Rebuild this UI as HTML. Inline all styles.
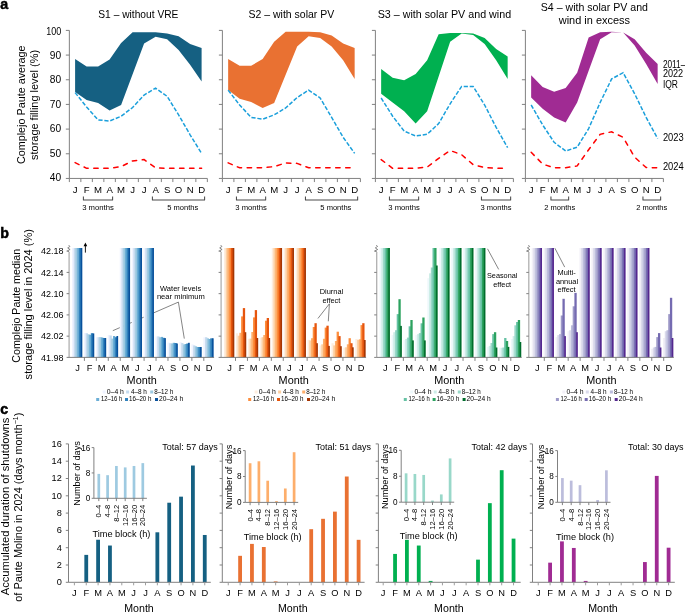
<!DOCTYPE html><html><head><meta charset="utf-8"><style>html,body{margin:0;padding:0;background:#fff}svg{display:block;will-change:transform}text{font-family:"Liberation Sans",sans-serif}</style></head><body>
<svg width="685" height="612" viewBox="0 0 685 612">
<rect width="685" height="612" fill="#fff"/>
<text x="0.3" y="8.6" font-size="14.2" font-weight="bold" fill="#000" stroke="#000" stroke-width="0.5">a</text>
<polygon points="75.1,59.05 86.6,66.5 98.1,66.5 109.6,59.5 121.1,42.9 132.6,32.2 144.1,32.2 155.6,32.2 167.1,33.5 178.6,36.2 190.1,44.1 201.6,47.9 201.6,81.4 190.1,64.8 178.6,49.9 167.1,39.2 155.6,36.7 144.1,43.4 132.6,74.2 121.1,105 109.6,110.5 98.1,103 86.6,100 75.1,92.1" fill="#156082"/>
<polyline points="75.1,92.6 86.6,107 98.1,119.9 109.6,121.1 121.1,116.2 132.6,107.5 144.1,95 155.6,88.1 167.1,96.3 178.6,114.9 190.1,134.8 201.6,153.4" fill="none" stroke="#1a9fdb" stroke-width="1.5" stroke-dasharray="4.2 1.8"/>
<polyline points="75.1,162.6 86.6,168.3 98.1,168.3 109.6,168.3 121.1,166.6 132.6,160.9 144.1,159.6 155.6,167.8 167.1,168.3 178.6,168.3 190.1,168.3 201.6,168.3" fill="none" stroke="#ff0000" stroke-width="1.5" stroke-dasharray="4.4 5.6" stroke-linecap="round"/>
<line x1="69.35" y1="30.4" x2="69.35" y2="178.45" stroke="#7a7a7a" stroke-width="0.95"/>
<line x1="69.35" y1="178.45" x2="207.35" y2="178.45" stroke="#7a7a7a" stroke-width="0.95"/>
<line x1="65.85" y1="178.45" x2="69.35" y2="178.45" stroke="#7a7a7a" stroke-width="0.95"/>
<text x="61.2" y="180.95" font-size="10.2" text-anchor="end">40</text>
<line x1="65.85" y1="153.77" x2="69.35" y2="153.77" stroke="#7a7a7a" stroke-width="0.95"/>
<text x="61.2" y="156.57" font-size="10.2" text-anchor="end">50</text>
<line x1="65.85" y1="129.1" x2="69.35" y2="129.1" stroke="#7a7a7a" stroke-width="0.95"/>
<text x="61.2" y="132.2" font-size="10.2" text-anchor="end">60</text>
<line x1="65.85" y1="104.42" x2="69.35" y2="104.42" stroke="#7a7a7a" stroke-width="0.95"/>
<text x="61.2" y="107.82" font-size="10.2" text-anchor="end">70</text>
<line x1="65.85" y1="79.75" x2="69.35" y2="79.75" stroke="#7a7a7a" stroke-width="0.95"/>
<text x="61.2" y="83.45" font-size="10.2" text-anchor="end">80</text>
<line x1="65.85" y1="55.08" x2="69.35" y2="55.08" stroke="#7a7a7a" stroke-width="0.95"/>
<text x="61.2" y="59.07" font-size="10.2" text-anchor="end">90</text>
<line x1="65.85" y1="30.4" x2="69.35" y2="30.4" stroke="#7a7a7a" stroke-width="0.95"/>
<text x="61.2" y="34.7" font-size="10.2" text-anchor="end" textLength="15" lengthAdjust="spacingAndGlyphs">100</text>
<line x1="69.35" y1="178.45" x2="69.35" y2="182.05" stroke="#7a7a7a" stroke-width="0.95"/>
<line x1="80.85" y1="178.45" x2="80.85" y2="182.05" stroke="#7a7a7a" stroke-width="0.95"/>
<line x1="92.35" y1="178.45" x2="92.35" y2="182.05" stroke="#7a7a7a" stroke-width="0.95"/>
<line x1="103.85" y1="178.45" x2="103.85" y2="182.05" stroke="#7a7a7a" stroke-width="0.95"/>
<line x1="115.35" y1="178.45" x2="115.35" y2="182.05" stroke="#7a7a7a" stroke-width="0.95"/>
<line x1="126.85" y1="178.45" x2="126.85" y2="182.05" stroke="#7a7a7a" stroke-width="0.95"/>
<line x1="138.35" y1="178.45" x2="138.35" y2="182.05" stroke="#7a7a7a" stroke-width="0.95"/>
<line x1="149.85" y1="178.45" x2="149.85" y2="182.05" stroke="#7a7a7a" stroke-width="0.95"/>
<line x1="161.35" y1="178.45" x2="161.35" y2="182.05" stroke="#7a7a7a" stroke-width="0.95"/>
<line x1="172.85" y1="178.45" x2="172.85" y2="182.05" stroke="#7a7a7a" stroke-width="0.95"/>
<line x1="184.35" y1="178.45" x2="184.35" y2="182.05" stroke="#7a7a7a" stroke-width="0.95"/>
<line x1="195.85" y1="178.45" x2="195.85" y2="182.05" stroke="#7a7a7a" stroke-width="0.95"/>
<line x1="207.35" y1="178.45" x2="207.35" y2="182.05" stroke="#7a7a7a" stroke-width="0.95"/>
<text x="75.1" y="192.7" font-size="9.6" text-anchor="middle">J</text>
<text x="86.6" y="192.7" font-size="9.6" text-anchor="middle">F</text>
<text x="98.1" y="192.7" font-size="9.6" text-anchor="middle">M</text>
<text x="109.6" y="192.7" font-size="9.6" text-anchor="middle">A</text>
<text x="121.1" y="192.7" font-size="9.6" text-anchor="middle">M</text>
<text x="132.6" y="192.7" font-size="9.6" text-anchor="middle">J</text>
<text x="144.1" y="192.7" font-size="9.6" text-anchor="middle">J</text>
<text x="155.6" y="192.7" font-size="9.6" text-anchor="middle">A</text>
<text x="167.1" y="192.7" font-size="9.6" text-anchor="middle">S</text>
<text x="178.6" y="192.7" font-size="9.6" text-anchor="middle">O</text>
<text x="190.1" y="192.7" font-size="9.6" text-anchor="middle">N</text>
<text x="201.6" y="192.7" font-size="9.6" text-anchor="middle">D</text>
<polyline points="83.4,196.6 83.4,200 112.6,200 112.6,196.6" fill="none" stroke="#4a4a4a" stroke-width="1.05" stroke-linejoin="round"/>
<text x="98" y="209.8" font-size="7.7" text-anchor="middle" textLength="31.7" lengthAdjust="spacingAndGlyphs">3 months</text>
<polyline points="152.4,196.6 152.4,200 204.6,200 204.6,196.6" fill="none" stroke="#4a4a4a" stroke-width="1.05" stroke-linejoin="round"/>
<text x="182.8" y="209.8" font-size="7.7" text-anchor="middle" textLength="31" lengthAdjust="spacingAndGlyphs">5 months</text>
<text x="138.35" y="18" font-size="10.6" text-anchor="middle" textLength="80.1" lengthAdjust="spacingAndGlyphs">S1 – without VRE</text>
<polygon points="228.15,59 239.65,65.8 251.15,65.8 262.65,59 274.15,41.7 285.65,31.7 297.15,31.7 308.65,31.7 320.15,32.2 331.65,35.5 343.15,43.4 354.65,47.9 354.65,78.9 343.15,60.3 331.65,46.6 320.15,37.9 308.65,36.2 297.15,46.6 285.65,74.8 274.15,103 262.65,108 251.15,102 239.65,98.8 228.15,90.1" fill="#e97132"/>
<polyline points="228.15,90.1 239.65,105 251.15,117.4 262.65,119.2 274.15,114.9 285.65,108 297.15,97.5 308.65,90.1 320.15,98 331.65,117.4 343.15,137.3 354.65,153.4" fill="none" stroke="#1a9fdb" stroke-width="1.5" stroke-dasharray="4.2 1.8"/>
<polyline points="228.15,162.9 239.65,167.8 251.15,167.8 262.65,167.8 274.15,166.6 285.65,162.9 297.15,163.4 308.65,167.8 320.15,167.8 331.65,167.8 343.15,167.8 354.65,167.8" fill="none" stroke="#ff0000" stroke-width="1.5" stroke-dasharray="4.4 5.6" stroke-linecap="round"/>
<line x1="222.4" y1="30.4" x2="222.4" y2="178.45" stroke="#7a7a7a" stroke-width="0.95"/>
<line x1="222.4" y1="178.45" x2="360.4" y2="178.45" stroke="#7a7a7a" stroke-width="0.95"/>
<line x1="218.9" y1="178.45" x2="222.4" y2="178.45" stroke="#7a7a7a" stroke-width="0.95"/>
<line x1="218.9" y1="153.77" x2="222.4" y2="153.77" stroke="#7a7a7a" stroke-width="0.95"/>
<line x1="218.9" y1="129.1" x2="222.4" y2="129.1" stroke="#7a7a7a" stroke-width="0.95"/>
<line x1="218.9" y1="104.42" x2="222.4" y2="104.42" stroke="#7a7a7a" stroke-width="0.95"/>
<line x1="218.9" y1="79.75" x2="222.4" y2="79.75" stroke="#7a7a7a" stroke-width="0.95"/>
<line x1="218.9" y1="55.08" x2="222.4" y2="55.08" stroke="#7a7a7a" stroke-width="0.95"/>
<line x1="218.9" y1="30.4" x2="222.4" y2="30.4" stroke="#7a7a7a" stroke-width="0.95"/>
<line x1="222.4" y1="178.45" x2="222.4" y2="182.05" stroke="#7a7a7a" stroke-width="0.95"/>
<line x1="233.9" y1="178.45" x2="233.9" y2="182.05" stroke="#7a7a7a" stroke-width="0.95"/>
<line x1="245.4" y1="178.45" x2="245.4" y2="182.05" stroke="#7a7a7a" stroke-width="0.95"/>
<line x1="256.9" y1="178.45" x2="256.9" y2="182.05" stroke="#7a7a7a" stroke-width="0.95"/>
<line x1="268.4" y1="178.45" x2="268.4" y2="182.05" stroke="#7a7a7a" stroke-width="0.95"/>
<line x1="279.9" y1="178.45" x2="279.9" y2="182.05" stroke="#7a7a7a" stroke-width="0.95"/>
<line x1="291.4" y1="178.45" x2="291.4" y2="182.05" stroke="#7a7a7a" stroke-width="0.95"/>
<line x1="302.9" y1="178.45" x2="302.9" y2="182.05" stroke="#7a7a7a" stroke-width="0.95"/>
<line x1="314.4" y1="178.45" x2="314.4" y2="182.05" stroke="#7a7a7a" stroke-width="0.95"/>
<line x1="325.9" y1="178.45" x2="325.9" y2="182.05" stroke="#7a7a7a" stroke-width="0.95"/>
<line x1="337.4" y1="178.45" x2="337.4" y2="182.05" stroke="#7a7a7a" stroke-width="0.95"/>
<line x1="348.9" y1="178.45" x2="348.9" y2="182.05" stroke="#7a7a7a" stroke-width="0.95"/>
<line x1="360.4" y1="178.45" x2="360.4" y2="182.05" stroke="#7a7a7a" stroke-width="0.95"/>
<text x="228.15" y="192.7" font-size="9.6" text-anchor="middle">J</text>
<text x="239.65" y="192.7" font-size="9.6" text-anchor="middle">F</text>
<text x="251.15" y="192.7" font-size="9.6" text-anchor="middle">M</text>
<text x="262.65" y="192.7" font-size="9.6" text-anchor="middle">A</text>
<text x="274.15" y="192.7" font-size="9.6" text-anchor="middle">M</text>
<text x="285.65" y="192.7" font-size="9.6" text-anchor="middle">J</text>
<text x="297.15" y="192.7" font-size="9.6" text-anchor="middle">J</text>
<text x="308.65" y="192.7" font-size="9.6" text-anchor="middle">A</text>
<text x="320.15" y="192.7" font-size="9.6" text-anchor="middle">S</text>
<text x="331.65" y="192.7" font-size="9.6" text-anchor="middle">O</text>
<text x="343.15" y="192.7" font-size="9.6" text-anchor="middle">N</text>
<text x="354.65" y="192.7" font-size="9.6" text-anchor="middle">D</text>
<polyline points="236.45,196.6 236.45,200 265.65,200 265.65,196.6" fill="none" stroke="#4a4a4a" stroke-width="1.05" stroke-linejoin="round"/>
<text x="251.05" y="209.8" font-size="7.7" text-anchor="middle" textLength="31.5" lengthAdjust="spacingAndGlyphs">3 months</text>
<polyline points="305.45,196.6 305.45,200 357.65,200 357.65,196.6" fill="none" stroke="#4a4a4a" stroke-width="1.05" stroke-linejoin="round"/>
<text x="335.85" y="209.8" font-size="7.7" text-anchor="middle" textLength="31" lengthAdjust="spacingAndGlyphs">5 months</text>
<text x="291.4" y="18" font-size="10.6" text-anchor="middle" textLength="85.8" lengthAdjust="spacingAndGlyphs">S2 – with solar PV</text>
<polygon points="381.15,69 392.65,77.7 404.15,80.2 415.65,74 427.15,60.3 438.65,34.2 450.15,33 461.65,33 473.15,33.5 484.65,37.9 496.15,49.1 507.65,56.6 507.65,78.9 496.15,60.3 484.65,44.1 473.15,35 461.65,33.5 450.15,41.7 438.65,76.45 427.15,111.2 415.65,123.6 404.15,111.2 392.65,102.5 381.15,93.8" fill="#00b050"/>
<polyline points="381.15,98 392.65,116.2 404.15,131.1 415.65,136 427.15,134.3 438.65,123.6 450.15,103.8 461.65,86.4 473.15,86.4 484.65,105 496.15,127.4 507.65,147.7" fill="none" stroke="#1a9fdb" stroke-width="1.5" stroke-dasharray="4.2 1.8"/>
<polyline points="381.15,159.6 392.65,168.3 404.15,168.3 415.65,168.3 427.15,167.1 438.65,158.4 450.15,150.5 461.65,154.7 473.15,164.6 484.65,167.6 496.15,168.3 507.65,168.3" fill="none" stroke="#ff0000" stroke-width="1.5" stroke-dasharray="4.4 5.6" stroke-linecap="round"/>
<line x1="375.4" y1="30.4" x2="375.4" y2="178.45" stroke="#7a7a7a" stroke-width="0.95"/>
<line x1="375.4" y1="178.45" x2="513.4" y2="178.45" stroke="#7a7a7a" stroke-width="0.95"/>
<line x1="371.9" y1="178.45" x2="375.4" y2="178.45" stroke="#7a7a7a" stroke-width="0.95"/>
<line x1="371.9" y1="153.77" x2="375.4" y2="153.77" stroke="#7a7a7a" stroke-width="0.95"/>
<line x1="371.9" y1="129.1" x2="375.4" y2="129.1" stroke="#7a7a7a" stroke-width="0.95"/>
<line x1="371.9" y1="104.42" x2="375.4" y2="104.42" stroke="#7a7a7a" stroke-width="0.95"/>
<line x1="371.9" y1="79.75" x2="375.4" y2="79.75" stroke="#7a7a7a" stroke-width="0.95"/>
<line x1="371.9" y1="55.08" x2="375.4" y2="55.08" stroke="#7a7a7a" stroke-width="0.95"/>
<line x1="371.9" y1="30.4" x2="375.4" y2="30.4" stroke="#7a7a7a" stroke-width="0.95"/>
<line x1="375.4" y1="178.45" x2="375.4" y2="182.05" stroke="#7a7a7a" stroke-width="0.95"/>
<line x1="386.9" y1="178.45" x2="386.9" y2="182.05" stroke="#7a7a7a" stroke-width="0.95"/>
<line x1="398.4" y1="178.45" x2="398.4" y2="182.05" stroke="#7a7a7a" stroke-width="0.95"/>
<line x1="409.9" y1="178.45" x2="409.9" y2="182.05" stroke="#7a7a7a" stroke-width="0.95"/>
<line x1="421.4" y1="178.45" x2="421.4" y2="182.05" stroke="#7a7a7a" stroke-width="0.95"/>
<line x1="432.9" y1="178.45" x2="432.9" y2="182.05" stroke="#7a7a7a" stroke-width="0.95"/>
<line x1="444.4" y1="178.45" x2="444.4" y2="182.05" stroke="#7a7a7a" stroke-width="0.95"/>
<line x1="455.9" y1="178.45" x2="455.9" y2="182.05" stroke="#7a7a7a" stroke-width="0.95"/>
<line x1="467.4" y1="178.45" x2="467.4" y2="182.05" stroke="#7a7a7a" stroke-width="0.95"/>
<line x1="478.9" y1="178.45" x2="478.9" y2="182.05" stroke="#7a7a7a" stroke-width="0.95"/>
<line x1="490.4" y1="178.45" x2="490.4" y2="182.05" stroke="#7a7a7a" stroke-width="0.95"/>
<line x1="501.9" y1="178.45" x2="501.9" y2="182.05" stroke="#7a7a7a" stroke-width="0.95"/>
<line x1="513.4" y1="178.45" x2="513.4" y2="182.05" stroke="#7a7a7a" stroke-width="0.95"/>
<text x="381.15" y="192.7" font-size="9.6" text-anchor="middle">J</text>
<text x="392.65" y="192.7" font-size="9.6" text-anchor="middle">F</text>
<text x="404.15" y="192.7" font-size="9.6" text-anchor="middle">M</text>
<text x="415.65" y="192.7" font-size="9.6" text-anchor="middle">A</text>
<text x="427.15" y="192.7" font-size="9.6" text-anchor="middle">M</text>
<text x="438.65" y="192.7" font-size="9.6" text-anchor="middle">J</text>
<text x="450.15" y="192.7" font-size="9.6" text-anchor="middle">J</text>
<text x="461.65" y="192.7" font-size="9.6" text-anchor="middle">A</text>
<text x="473.15" y="192.7" font-size="9.6" text-anchor="middle">S</text>
<text x="484.65" y="192.7" font-size="9.6" text-anchor="middle">O</text>
<text x="496.15" y="192.7" font-size="9.6" text-anchor="middle">N</text>
<text x="507.65" y="192.7" font-size="9.6" text-anchor="middle">D</text>
<polyline points="389.45,196.6 389.45,200 418.65,200 418.65,196.6" fill="none" stroke="#4a4a4a" stroke-width="1.05" stroke-linejoin="round"/>
<text x="404.05" y="209.8" font-size="7.7" text-anchor="middle" textLength="31.5" lengthAdjust="spacingAndGlyphs">3 months</text>
<polyline points="481.45,196.6 481.45,200 510.65,200 510.65,196.6" fill="none" stroke="#4a4a4a" stroke-width="1.05" stroke-linejoin="round"/>
<text x="496.05" y="209.8" font-size="7.7" text-anchor="middle" textLength="31" lengthAdjust="spacingAndGlyphs">3 months</text>
<text x="444.4" y="18" font-size="10.6" text-anchor="middle" textLength="133.5" lengthAdjust="spacingAndGlyphs">S3 – with solar PV and wind</text>
<polygon points="531.15,75.2 542.65,86.9 554.15,91.8 565.65,88.1 577.15,72.7 588.65,37.4 600.15,32.2 611.65,31.7 623.15,32.5 634.65,39.2 646.15,52.8 657.65,64 657.65,83.9 646.15,64 634.65,45.4 623.15,32.5 611.65,32.2 600.15,39.2 588.65,70.85 577.15,102.5 565.65,122.4 554.15,117.4 542.65,108.7 531.15,97.5" fill="#a02b93"/>
<polyline points="531.15,105 542.65,124.9 554.15,142.3 565.65,151 577.15,147.2 588.65,128.6 600.15,102.5 611.65,78.9 623.15,72.7 634.65,93.8 646.15,117.4 657.65,138.5" fill="none" stroke="#1a9fdb" stroke-width="1.5" stroke-dasharray="4.2 1.8"/>
<polyline points="531.15,152.2 542.65,164.1 554.15,167.8 565.65,167.8 577.15,165.9 588.65,149.7 600.15,134.3 611.65,131.8 623.15,137.3 634.65,157.2 646.15,167.6 657.65,167.8" fill="none" stroke="#ff0000" stroke-width="1.5" stroke-dasharray="4.4 5.6" stroke-linecap="round"/>
<line x1="525.4" y1="30.4" x2="525.4" y2="178.45" stroke="#7a7a7a" stroke-width="0.95"/>
<line x1="525.4" y1="178.45" x2="663.4" y2="178.45" stroke="#7a7a7a" stroke-width="0.95"/>
<line x1="521.9" y1="178.45" x2="525.4" y2="178.45" stroke="#7a7a7a" stroke-width="0.95"/>
<line x1="521.9" y1="153.77" x2="525.4" y2="153.77" stroke="#7a7a7a" stroke-width="0.95"/>
<line x1="521.9" y1="129.1" x2="525.4" y2="129.1" stroke="#7a7a7a" stroke-width="0.95"/>
<line x1="521.9" y1="104.42" x2="525.4" y2="104.42" stroke="#7a7a7a" stroke-width="0.95"/>
<line x1="521.9" y1="79.75" x2="525.4" y2="79.75" stroke="#7a7a7a" stroke-width="0.95"/>
<line x1="521.9" y1="55.08" x2="525.4" y2="55.08" stroke="#7a7a7a" stroke-width="0.95"/>
<line x1="521.9" y1="30.4" x2="525.4" y2="30.4" stroke="#7a7a7a" stroke-width="0.95"/>
<line x1="525.4" y1="178.45" x2="525.4" y2="182.05" stroke="#7a7a7a" stroke-width="0.95"/>
<line x1="536.9" y1="178.45" x2="536.9" y2="182.05" stroke="#7a7a7a" stroke-width="0.95"/>
<line x1="548.4" y1="178.45" x2="548.4" y2="182.05" stroke="#7a7a7a" stroke-width="0.95"/>
<line x1="559.9" y1="178.45" x2="559.9" y2="182.05" stroke="#7a7a7a" stroke-width="0.95"/>
<line x1="571.4" y1="178.45" x2="571.4" y2="182.05" stroke="#7a7a7a" stroke-width="0.95"/>
<line x1="582.9" y1="178.45" x2="582.9" y2="182.05" stroke="#7a7a7a" stroke-width="0.95"/>
<line x1="594.4" y1="178.45" x2="594.4" y2="182.05" stroke="#7a7a7a" stroke-width="0.95"/>
<line x1="605.9" y1="178.45" x2="605.9" y2="182.05" stroke="#7a7a7a" stroke-width="0.95"/>
<line x1="617.4" y1="178.45" x2="617.4" y2="182.05" stroke="#7a7a7a" stroke-width="0.95"/>
<line x1="628.9" y1="178.45" x2="628.9" y2="182.05" stroke="#7a7a7a" stroke-width="0.95"/>
<line x1="640.4" y1="178.45" x2="640.4" y2="182.05" stroke="#7a7a7a" stroke-width="0.95"/>
<line x1="651.9" y1="178.45" x2="651.9" y2="182.05" stroke="#7a7a7a" stroke-width="0.95"/>
<line x1="663.4" y1="178.45" x2="663.4" y2="182.05" stroke="#7a7a7a" stroke-width="0.95"/>
<text x="531.15" y="192.7" font-size="9.6" text-anchor="middle">J</text>
<text x="542.65" y="192.7" font-size="9.6" text-anchor="middle">F</text>
<text x="554.15" y="192.7" font-size="9.6" text-anchor="middle">M</text>
<text x="565.65" y="192.7" font-size="9.6" text-anchor="middle">A</text>
<text x="577.15" y="192.7" font-size="9.6" text-anchor="middle">M</text>
<text x="588.65" y="192.7" font-size="9.6" text-anchor="middle">J</text>
<text x="600.15" y="192.7" font-size="9.6" text-anchor="middle">J</text>
<text x="611.65" y="192.7" font-size="9.6" text-anchor="middle">A</text>
<text x="623.15" y="192.7" font-size="9.6" text-anchor="middle">S</text>
<text x="634.65" y="192.7" font-size="9.6" text-anchor="middle">O</text>
<text x="646.15" y="192.7" font-size="9.6" text-anchor="middle">N</text>
<text x="657.65" y="192.7" font-size="9.6" text-anchor="middle">D</text>
<polyline points="550.95,196.6 550.95,200 568.65,200 568.65,196.6" fill="none" stroke="#4a4a4a" stroke-width="1.05" stroke-linejoin="round"/>
<text x="559.8" y="209.8" font-size="7.7" text-anchor="middle" textLength="31" lengthAdjust="spacingAndGlyphs">2 months</text>
<polyline points="642.95,196.6 642.95,200 660.65,200 660.65,196.6" fill="none" stroke="#4a4a4a" stroke-width="1.05" stroke-linejoin="round"/>
<text x="651.8" y="209.8" font-size="7.7" text-anchor="middle" textLength="31" lengthAdjust="spacingAndGlyphs">2 months</text>
<text x="594.4" y="11.4" font-size="10.6" text-anchor="middle" textLength="107.2" lengthAdjust="spacingAndGlyphs">S4 – with solar PV and</text>
<text x="594.4" y="23.65" font-size="10.6" text-anchor="middle" textLength="71.3" lengthAdjust="spacingAndGlyphs">wind in excess</text>
<text x="662.9" y="67.7" font-size="10" textLength="22.4" lengthAdjust="spacingAndGlyphs">2011–</text>
<text x="662.9" y="77" font-size="10" textLength="20.3" lengthAdjust="spacingAndGlyphs">2022</text>
<text x="662.9" y="87.7" font-size="10" textLength="15.1" lengthAdjust="spacingAndGlyphs">IQR</text>
<text x="662.9" y="140.9" font-size="10" textLength="20.8" lengthAdjust="spacingAndGlyphs">2023</text>
<text x="662.9" y="170" font-size="10" textLength="20.8" lengthAdjust="spacingAndGlyphs">2024</text>
<text transform="translate(25.2 104.75) rotate(-90)" font-size="10.9" text-anchor="middle" textLength="118.7" lengthAdjust="spacingAndGlyphs">Complejo Paute average</text>
<text transform="translate(38.1 104.9) rotate(-90)" font-size="10.9" text-anchor="middle" textLength="110" lengthAdjust="spacingAndGlyphs">storage filling level (%)</text>
<polyline points="112.8,330.7 178.4,302.1 184.3,338.6" fill="none" stroke="#333" stroke-width="0.6"/>
<text x="0.3" y="237.6" font-size="14.2" font-weight="bold" fill="#000" stroke="#000" stroke-width="0.5">b</text>
<rect x="72" y="248" width="2.3" height="109.4" fill="#eff3ff"/>
<rect x="73.72" y="248" width="2.3" height="109.4" fill="#c6dbef"/>
<rect x="75.44" y="248" width="2.3" height="109.4" fill="#9ecae1"/>
<rect x="77.16" y="248" width="2.3" height="109.4" fill="#6baed6"/>
<rect x="78.88" y="248" width="2.3" height="109.4" fill="#3182bd"/>
<rect x="80.6" y="248" width="1.72" height="109.4" fill="#08519c"/>
<rect x="83.94" y="333" width="2.3" height="24.4" fill="#eff3ff"/>
<rect x="85.66" y="333.2" width="2.3" height="24.2" fill="#c6dbef"/>
<rect x="87.38" y="334.3" width="2.3" height="23.1" fill="#9ecae1"/>
<rect x="89.1" y="334.8" width="2.3" height="22.6" fill="#6baed6"/>
<rect x="90.82" y="333.2" width="2.3" height="24.2" fill="#3182bd"/>
<rect x="92.54" y="333.4" width="1.72" height="24" fill="#08519c"/>
<rect x="95.88" y="337.2" width="2.3" height="20.2" fill="#eff3ff"/>
<rect x="97.6" y="337.2" width="2.3" height="20.2" fill="#c6dbef"/>
<rect x="99.32" y="337.1" width="2.3" height="20.3" fill="#9ecae1"/>
<rect x="101.04" y="337.5" width="2.3" height="19.9" fill="#6baed6"/>
<rect x="102.76" y="338" width="2.3" height="19.4" fill="#3182bd"/>
<rect x="104.48" y="338" width="1.72" height="19.4" fill="#08519c"/>
<rect x="107.82" y="335" width="2.3" height="22.4" fill="#eff3ff"/>
<rect x="109.54" y="335.5" width="2.3" height="21.9" fill="#c6dbef"/>
<rect x="111.26" y="338.6" width="2.3" height="18.8" fill="#9ecae1"/>
<rect x="112.98" y="336" width="2.3" height="21.4" fill="#6baed6"/>
<rect x="114.7" y="337.2" width="2.3" height="20.2" fill="#3182bd"/>
<rect x="116.42" y="336" width="1.72" height="21.4" fill="#08519c"/>
<rect x="119.76" y="248" width="2.3" height="109.4" fill="#eff3ff"/>
<rect x="121.48" y="248" width="2.3" height="109.4" fill="#c6dbef"/>
<rect x="123.2" y="248" width="2.3" height="109.4" fill="#9ecae1"/>
<rect x="124.92" y="248" width="2.3" height="109.4" fill="#6baed6"/>
<rect x="126.64" y="248" width="2.3" height="109.4" fill="#3182bd"/>
<rect x="128.36" y="248" width="1.72" height="109.4" fill="#08519c"/>
<rect x="131.7" y="248" width="2.3" height="109.4" fill="#eff3ff"/>
<rect x="133.42" y="248" width="2.3" height="109.4" fill="#c6dbef"/>
<rect x="135.14" y="248" width="2.3" height="109.4" fill="#9ecae1"/>
<rect x="136.86" y="248" width="2.3" height="109.4" fill="#6baed6"/>
<rect x="138.58" y="248" width="2.3" height="109.4" fill="#3182bd"/>
<rect x="140.3" y="248" width="1.72" height="109.4" fill="#08519c"/>
<rect x="143.64" y="248" width="2.3" height="109.4" fill="#eff3ff"/>
<rect x="145.36" y="248" width="2.3" height="109.4" fill="#c6dbef"/>
<rect x="147.08" y="248" width="2.3" height="109.4" fill="#9ecae1"/>
<rect x="148.8" y="248" width="2.3" height="109.4" fill="#6baed6"/>
<rect x="150.52" y="248" width="2.3" height="109.4" fill="#3182bd"/>
<rect x="152.24" y="248" width="1.72" height="109.4" fill="#08519c"/>
<rect x="155.58" y="336.4" width="2.3" height="21" fill="#eff3ff"/>
<rect x="157.3" y="336.4" width="2.3" height="21" fill="#c6dbef"/>
<rect x="159.02" y="337.3" width="2.3" height="20.1" fill="#9ecae1"/>
<rect x="160.74" y="336.9" width="2.3" height="20.5" fill="#6baed6"/>
<rect x="162.46" y="337.8" width="2.3" height="19.6" fill="#3182bd"/>
<rect x="164.18" y="338.1" width="1.72" height="19.3" fill="#08519c"/>
<rect x="167.52" y="342.6" width="2.3" height="14.8" fill="#eff3ff"/>
<rect x="169.24" y="343.2" width="2.3" height="14.2" fill="#c6dbef"/>
<rect x="170.96" y="343.5" width="2.3" height="13.9" fill="#9ecae1"/>
<rect x="172.68" y="342.8" width="2.3" height="14.6" fill="#6baed6"/>
<rect x="174.4" y="343" width="2.3" height="14.4" fill="#3182bd"/>
<rect x="176.12" y="343.5" width="1.72" height="13.9" fill="#08519c"/>
<rect x="179.46" y="342.1" width="2.3" height="15.3" fill="#eff3ff"/>
<rect x="181.18" y="343" width="2.3" height="14.4" fill="#c6dbef"/>
<rect x="182.9" y="344.4" width="2.3" height="13" fill="#9ecae1"/>
<rect x="184.62" y="344" width="2.3" height="13.4" fill="#6baed6"/>
<rect x="186.34" y="343.5" width="2.3" height="13.9" fill="#3182bd"/>
<rect x="188.06" y="342.8" width="1.72" height="14.6" fill="#08519c"/>
<rect x="191.4" y="344.4" width="2.3" height="13" fill="#eff3ff"/>
<rect x="193.12" y="345.4" width="2.3" height="12" fill="#c6dbef"/>
<rect x="194.84" y="346.3" width="2.3" height="11.1" fill="#9ecae1"/>
<rect x="196.56" y="347" width="2.3" height="10.4" fill="#6baed6"/>
<rect x="198.28" y="347" width="2.3" height="10.4" fill="#3182bd"/>
<rect x="200" y="347" width="1.72" height="10.4" fill="#08519c"/>
<rect x="203.34" y="337.3" width="2.3" height="20.1" fill="#eff3ff"/>
<rect x="205.06" y="337.2" width="2.3" height="20.2" fill="#c6dbef"/>
<rect x="206.78" y="338.3" width="2.3" height="19.1" fill="#9ecae1"/>
<rect x="208.5" y="339" width="2.3" height="18.4" fill="#6baed6"/>
<rect x="210.22" y="338.3" width="2.3" height="19.1" fill="#3182bd"/>
<rect x="211.94" y="338.3" width="1.72" height="19.1" fill="#08519c"/>
<line x1="69.1" y1="252.3" x2="69.1" y2="357.4" stroke="#b0b0b0" stroke-width="1.3"/>
<path d="M69.1 252.3 l-1.6 -1.6 l2.6 -1.2 l-2.4 -1.6 l2.2 -1.4 l-1.2 -1.4" fill="none" stroke="#555" stroke-width="0.7"/>
<line x1="69.1" y1="357.4" x2="214.1" y2="357.4" stroke="#7a7a7a" stroke-width="0.95"/>
<line x1="66.6" y1="357.4" x2="69.1" y2="357.4" stroke="#7a7a7a" stroke-width="0.95"/>
<text x="63.6" y="360.7" font-size="9.2" text-anchor="end" textLength="22.6" lengthAdjust="spacingAndGlyphs">41.98</text>
<line x1="66.6" y1="336.15" x2="69.1" y2="336.15" stroke="#7a7a7a" stroke-width="0.95"/>
<text x="63.6" y="339.45" font-size="9.2" text-anchor="end" textLength="22.6" lengthAdjust="spacingAndGlyphs">42.02</text>
<line x1="66.6" y1="314.9" x2="69.1" y2="314.9" stroke="#7a7a7a" stroke-width="0.95"/>
<text x="63.6" y="318.2" font-size="9.2" text-anchor="end" textLength="22.6" lengthAdjust="spacingAndGlyphs">42.06</text>
<line x1="66.6" y1="293.65" x2="69.1" y2="293.65" stroke="#7a7a7a" stroke-width="0.95"/>
<text x="63.6" y="296.95" font-size="9.2" text-anchor="end" textLength="22.6" lengthAdjust="spacingAndGlyphs">42.10</text>
<line x1="66.6" y1="272.4" x2="69.1" y2="272.4" stroke="#7a7a7a" stroke-width="0.95"/>
<text x="63.6" y="275.7" font-size="9.2" text-anchor="end" textLength="22.6" lengthAdjust="spacingAndGlyphs">42.14</text>
<line x1="66.6" y1="251.15" x2="69.1" y2="251.15" stroke="#7a7a7a" stroke-width="0.95"/>
<text x="63.6" y="254.45" font-size="9.2" text-anchor="end" textLength="22.6" lengthAdjust="spacingAndGlyphs">42.18</text>
<line x1="84.4" y1="357.4" x2="84.4" y2="360.9" stroke="#7a7a7a" stroke-width="0.95"/>
<line x1="96.34" y1="357.4" x2="96.34" y2="360.9" stroke="#7a7a7a" stroke-width="0.95"/>
<line x1="108.28" y1="357.4" x2="108.28" y2="360.9" stroke="#7a7a7a" stroke-width="0.95"/>
<line x1="120.22" y1="357.4" x2="120.22" y2="360.9" stroke="#7a7a7a" stroke-width="0.95"/>
<line x1="132.16" y1="357.4" x2="132.16" y2="360.9" stroke="#7a7a7a" stroke-width="0.95"/>
<line x1="144.1" y1="357.4" x2="144.1" y2="360.9" stroke="#7a7a7a" stroke-width="0.95"/>
<line x1="156.04" y1="357.4" x2="156.04" y2="360.9" stroke="#7a7a7a" stroke-width="0.95"/>
<line x1="167.98" y1="357.4" x2="167.98" y2="360.9" stroke="#7a7a7a" stroke-width="0.95"/>
<line x1="179.92" y1="357.4" x2="179.92" y2="360.9" stroke="#7a7a7a" stroke-width="0.95"/>
<line x1="191.86" y1="357.4" x2="191.86" y2="360.9" stroke="#7a7a7a" stroke-width="0.95"/>
<line x1="203.8" y1="357.4" x2="203.8" y2="360.9" stroke="#7a7a7a" stroke-width="0.95"/>
<text x="77.7" y="370.9" font-size="9.3" text-anchor="middle">J</text>
<text x="89.64" y="370.9" font-size="9.3" text-anchor="middle">F</text>
<text x="101.58" y="370.9" font-size="9.3" text-anchor="middle">M</text>
<text x="113.52" y="370.9" font-size="9.3" text-anchor="middle">A</text>
<text x="125.46" y="370.9" font-size="9.3" text-anchor="middle">M</text>
<text x="137.4" y="370.9" font-size="9.3" text-anchor="middle">J</text>
<text x="149.34" y="370.9" font-size="9.3" text-anchor="middle">J</text>
<text x="161.28" y="370.9" font-size="9.3" text-anchor="middle">A</text>
<text x="173.22" y="370.9" font-size="9.3" text-anchor="middle">S</text>
<text x="185.16" y="370.9" font-size="9.3" text-anchor="middle">O</text>
<text x="197.1" y="370.9" font-size="9.3" text-anchor="middle">N</text>
<text x="209.04" y="370.9" font-size="9.3" text-anchor="middle">D</text>
<text x="141.7" y="383.8" font-size="11.4" text-anchor="middle" textLength="30.2" lengthAdjust="spacingAndGlyphs">Month</text>
<rect x="102.6" y="390.5" width="3" height="3" fill="#eff3ff"/>
<text x="106.8" y="393.8" font-size="6.8" textLength="17.1" lengthAdjust="spacingAndGlyphs">0–4 h</text>
<rect x="126.1" y="390.5" width="3" height="3" fill="#c6dbef"/>
<text x="130.9" y="393.8" font-size="6.8" textLength="16" lengthAdjust="spacingAndGlyphs">4–8 h</text>
<rect x="150.2" y="390.5" width="3" height="3" fill="#9ecae1"/>
<text x="154.2" y="393.8" font-size="6.8" textLength="19" lengthAdjust="spacingAndGlyphs">8–12 h</text>
<rect x="96.2" y="398" width="3" height="3" fill="#6baed6"/>
<text x="100.9" y="401.3" font-size="6.8" textLength="21.2" lengthAdjust="spacingAndGlyphs">12–16 h</text>
<rect x="125" y="398" width="3" height="3" fill="#3182bd"/>
<text x="129" y="401.3" font-size="6.8" textLength="22.5" lengthAdjust="spacingAndGlyphs">16–20 h</text>
<rect x="155" y="398" width="3" height="3" fill="#08519c"/>
<text x="159" y="401.3" font-size="6.8" textLength="24.1" lengthAdjust="spacingAndGlyphs">20–24 h</text>
<rect x="224" y="248" width="2.3" height="109.4" fill="#feedde"/>
<rect x="225.72" y="248" width="2.3" height="109.4" fill="#fdd0a2"/>
<rect x="227.44" y="248" width="2.3" height="109.4" fill="#fdae6b"/>
<rect x="229.16" y="248" width="2.3" height="109.4" fill="#fd8d3c"/>
<rect x="230.88" y="248" width="2.3" height="109.4" fill="#e6550d"/>
<rect x="232.6" y="248" width="1.72" height="109.4" fill="#a63603"/>
<rect x="235.94" y="333.3" width="2.3" height="24.1" fill="#feedde"/>
<rect x="237.66" y="335.7" width="2.3" height="21.7" fill="#fdd0a2"/>
<rect x="239.38" y="332.8" width="2.3" height="24.6" fill="#fdae6b"/>
<rect x="241.1" y="316.4" width="2.3" height="41" fill="#fd8d3c"/>
<rect x="242.82" y="308.1" width="2.3" height="49.3" fill="#e6550d"/>
<rect x="244.54" y="332.2" width="1.72" height="25.2" fill="#a63603"/>
<rect x="247.88" y="338.8" width="2.3" height="18.6" fill="#feedde"/>
<rect x="249.6" y="338.6" width="2.3" height="18.8" fill="#fdd0a2"/>
<rect x="251.32" y="332" width="2.3" height="25.4" fill="#fdae6b"/>
<rect x="253.04" y="317.4" width="2.3" height="40" fill="#fd8d3c"/>
<rect x="254.76" y="310.1" width="2.3" height="47.3" fill="#e6550d"/>
<rect x="256.48" y="338" width="1.72" height="19.4" fill="#a63603"/>
<rect x="259.82" y="337.7" width="2.3" height="19.7" fill="#feedde"/>
<rect x="261.54" y="337.2" width="2.3" height="20.2" fill="#fdd0a2"/>
<rect x="263.26" y="335" width="2.3" height="22.4" fill="#fdae6b"/>
<rect x="264.98" y="320.7" width="2.3" height="36.7" fill="#fd8d3c"/>
<rect x="266.7" y="318" width="2.3" height="39.4" fill="#e6550d"/>
<rect x="268.42" y="338" width="1.72" height="19.4" fill="#a63603"/>
<rect x="271.76" y="248" width="2.3" height="109.4" fill="#feedde"/>
<rect x="273.48" y="248" width="2.3" height="109.4" fill="#fdd0a2"/>
<rect x="275.2" y="248" width="2.3" height="109.4" fill="#fdae6b"/>
<rect x="276.92" y="248" width="2.3" height="109.4" fill="#fd8d3c"/>
<rect x="278.64" y="248" width="2.3" height="109.4" fill="#e6550d"/>
<rect x="280.36" y="248" width="1.72" height="109.4" fill="#a63603"/>
<rect x="283.7" y="248" width="2.3" height="109.4" fill="#feedde"/>
<rect x="285.42" y="248" width="2.3" height="109.4" fill="#fdd0a2"/>
<rect x="287.14" y="248" width="2.3" height="109.4" fill="#fdae6b"/>
<rect x="288.86" y="248" width="2.3" height="109.4" fill="#fd8d3c"/>
<rect x="290.58" y="248" width="2.3" height="109.4" fill="#e6550d"/>
<rect x="292.3" y="248" width="1.72" height="109.4" fill="#a63603"/>
<rect x="295.64" y="248" width="2.3" height="109.4" fill="#feedde"/>
<rect x="297.36" y="248" width="2.3" height="109.4" fill="#fdd0a2"/>
<rect x="299.08" y="248" width="2.3" height="109.4" fill="#fdae6b"/>
<rect x="300.8" y="248" width="2.3" height="109.4" fill="#fd8d3c"/>
<rect x="302.52" y="248" width="2.3" height="109.4" fill="#e6550d"/>
<rect x="304.24" y="248" width="1.72" height="109.4" fill="#a63603"/>
<rect x="307.58" y="339.9" width="2.3" height="17.5" fill="#feedde"/>
<rect x="309.3" y="340.4" width="2.3" height="17" fill="#fdd0a2"/>
<rect x="311.02" y="338.2" width="2.3" height="19.2" fill="#fdae6b"/>
<rect x="312.74" y="327" width="2.3" height="30.4" fill="#fd8d3c"/>
<rect x="314.46" y="323.2" width="2.3" height="34.2" fill="#e6550d"/>
<rect x="316.18" y="343.2" width="1.72" height="14.2" fill="#a63603"/>
<rect x="319.52" y="345.4" width="2.3" height="12" fill="#feedde"/>
<rect x="321.24" y="344.3" width="2.3" height="13.1" fill="#fdd0a2"/>
<rect x="322.96" y="338.8" width="2.3" height="18.6" fill="#fdae6b"/>
<rect x="324.68" y="327.6" width="2.3" height="29.8" fill="#fd8d3c"/>
<rect x="326.4" y="325.7" width="2.3" height="31.7" fill="#e6550d"/>
<rect x="328.12" y="345.9" width="1.72" height="11.5" fill="#a63603"/>
<rect x="331.46" y="343.2" width="2.3" height="14.2" fill="#feedde"/>
<rect x="333.18" y="345.4" width="2.3" height="12" fill="#fdd0a2"/>
<rect x="334.9" y="341" width="2.3" height="16.4" fill="#fdae6b"/>
<rect x="336.62" y="331.7" width="2.3" height="25.7" fill="#fd8d3c"/>
<rect x="338.34" y="336.1" width="2.3" height="21.3" fill="#e6550d"/>
<rect x="340.06" y="346.2" width="1.72" height="11.2" fill="#a63603"/>
<rect x="343.4" y="347.6" width="2.3" height="9.8" fill="#feedde"/>
<rect x="345.12" y="347.3" width="2.3" height="10.1" fill="#fdd0a2"/>
<rect x="346.84" y="344.3" width="2.3" height="13.1" fill="#fdae6b"/>
<rect x="348.56" y="338.2" width="2.3" height="19.2" fill="#fd8d3c"/>
<rect x="350.28" y="343.2" width="2.3" height="14.2" fill="#e6550d"/>
<rect x="352" y="347.3" width="1.72" height="10.1" fill="#a63603"/>
<rect x="355.34" y="339" width="2.3" height="18.4" fill="#feedde"/>
<rect x="357.06" y="339.9" width="2.3" height="17.5" fill="#fdd0a2"/>
<rect x="358.78" y="339.3" width="2.3" height="18.1" fill="#fdae6b"/>
<rect x="360.5" y="325.1" width="2.3" height="32.3" fill="#fd8d3c"/>
<rect x="362.22" y="323.2" width="2.3" height="34.2" fill="#e6550d"/>
<rect x="363.94" y="340" width="1.72" height="17.4" fill="#a63603"/>
<line x1="221.1" y1="252.3" x2="221.1" y2="357.4" stroke="#b0b0b0" stroke-width="1.3"/>
<path d="M221.1 252.3 l-1.6 -1.6 l2.6 -1.2 l-2.4 -1.6 l2.2 -1.4 l-1.2 -1.4" fill="none" stroke="#555" stroke-width="0.7"/>
<line x1="221.1" y1="357.4" x2="366.1" y2="357.4" stroke="#7a7a7a" stroke-width="0.95"/>
<line x1="218.6" y1="357.4" x2="221.1" y2="357.4" stroke="#7a7a7a" stroke-width="0.95"/>
<line x1="218.6" y1="336.15" x2="221.1" y2="336.15" stroke="#7a7a7a" stroke-width="0.95"/>
<line x1="218.6" y1="314.9" x2="221.1" y2="314.9" stroke="#7a7a7a" stroke-width="0.95"/>
<line x1="218.6" y1="293.65" x2="221.1" y2="293.65" stroke="#7a7a7a" stroke-width="0.95"/>
<line x1="218.6" y1="272.4" x2="221.1" y2="272.4" stroke="#7a7a7a" stroke-width="0.95"/>
<line x1="218.6" y1="251.15" x2="221.1" y2="251.15" stroke="#7a7a7a" stroke-width="0.95"/>
<line x1="235.5" y1="357.4" x2="235.5" y2="360.9" stroke="#7a7a7a" stroke-width="0.95"/>
<line x1="247.44" y1="357.4" x2="247.44" y2="360.9" stroke="#7a7a7a" stroke-width="0.95"/>
<line x1="259.38" y1="357.4" x2="259.38" y2="360.9" stroke="#7a7a7a" stroke-width="0.95"/>
<line x1="271.32" y1="357.4" x2="271.32" y2="360.9" stroke="#7a7a7a" stroke-width="0.95"/>
<line x1="283.26" y1="357.4" x2="283.26" y2="360.9" stroke="#7a7a7a" stroke-width="0.95"/>
<line x1="295.2" y1="357.4" x2="295.2" y2="360.9" stroke="#7a7a7a" stroke-width="0.95"/>
<line x1="307.14" y1="357.4" x2="307.14" y2="360.9" stroke="#7a7a7a" stroke-width="0.95"/>
<line x1="319.08" y1="357.4" x2="319.08" y2="360.9" stroke="#7a7a7a" stroke-width="0.95"/>
<line x1="331.02" y1="357.4" x2="331.02" y2="360.9" stroke="#7a7a7a" stroke-width="0.95"/>
<line x1="342.96" y1="357.4" x2="342.96" y2="360.9" stroke="#7a7a7a" stroke-width="0.95"/>
<line x1="354.9" y1="357.4" x2="354.9" y2="360.9" stroke="#7a7a7a" stroke-width="0.95"/>
<text x="229.7" y="370.9" font-size="9.3" text-anchor="middle">J</text>
<text x="241.64" y="370.9" font-size="9.3" text-anchor="middle">F</text>
<text x="253.58" y="370.9" font-size="9.3" text-anchor="middle">M</text>
<text x="265.52" y="370.9" font-size="9.3" text-anchor="middle">A</text>
<text x="277.46" y="370.9" font-size="9.3" text-anchor="middle">M</text>
<text x="289.4" y="370.9" font-size="9.3" text-anchor="middle">J</text>
<text x="301.34" y="370.9" font-size="9.3" text-anchor="middle">J</text>
<text x="313.28" y="370.9" font-size="9.3" text-anchor="middle">A</text>
<text x="325.22" y="370.9" font-size="9.3" text-anchor="middle">S</text>
<text x="337.16" y="370.9" font-size="9.3" text-anchor="middle">O</text>
<text x="349.1" y="370.9" font-size="9.3" text-anchor="middle">N</text>
<text x="361.04" y="370.9" font-size="9.3" text-anchor="middle">D</text>
<text x="293.7" y="383.8" font-size="11.4" text-anchor="middle" textLength="30.2" lengthAdjust="spacingAndGlyphs">Month</text>
<rect x="254.6" y="390.5" width="3" height="3" fill="#feedde"/>
<text x="258.8" y="393.8" font-size="6.8" textLength="17.1" lengthAdjust="spacingAndGlyphs">0–4 h</text>
<rect x="278.1" y="390.5" width="3" height="3" fill="#fdd0a2"/>
<text x="282.9" y="393.8" font-size="6.8" textLength="16" lengthAdjust="spacingAndGlyphs">4–8 h</text>
<rect x="302.2" y="390.5" width="3" height="3" fill="#fdae6b"/>
<text x="306.2" y="393.8" font-size="6.8" textLength="19" lengthAdjust="spacingAndGlyphs">8–12 h</text>
<rect x="248.2" y="398" width="3" height="3" fill="#fd8d3c"/>
<text x="252.9" y="401.3" font-size="6.8" textLength="21.2" lengthAdjust="spacingAndGlyphs">12–16 h</text>
<rect x="277" y="398" width="3" height="3" fill="#e6550d"/>
<text x="281" y="401.3" font-size="6.8" textLength="22.5" lengthAdjust="spacingAndGlyphs">16–20 h</text>
<rect x="307" y="398" width="3" height="3" fill="#a63603"/>
<text x="311" y="401.3" font-size="6.8" textLength="24.1" lengthAdjust="spacingAndGlyphs">20–24 h</text>
<rect x="379.6" y="248" width="2.3" height="109.4" fill="#edf8fb"/>
<rect x="381.32" y="248" width="2.3" height="109.4" fill="#ccece6"/>
<rect x="383.04" y="248" width="2.3" height="109.4" fill="#99d8c9"/>
<rect x="384.76" y="248" width="2.3" height="109.4" fill="#66c2a4"/>
<rect x="386.48" y="248" width="2.3" height="109.4" fill="#2ca25f"/>
<rect x="388.2" y="248" width="1.72" height="109.4" fill="#006d2c"/>
<rect x="391.54" y="335.1" width="2.3" height="22.3" fill="#edf8fb"/>
<rect x="393.26" y="332.2" width="2.3" height="25.2" fill="#ccece6"/>
<rect x="394.98" y="330.2" width="2.3" height="27.2" fill="#99d8c9"/>
<rect x="396.7" y="314.1" width="2.3" height="43.3" fill="#66c2a4"/>
<rect x="398.42" y="299.2" width="2.3" height="58.2" fill="#2ca25f"/>
<rect x="400.14" y="325.9" width="1.72" height="31.5" fill="#006d2c"/>
<rect x="403.48" y="340" width="2.3" height="17.4" fill="#edf8fb"/>
<rect x="405.2" y="339" width="2.3" height="18.4" fill="#ccece6"/>
<rect x="406.92" y="337.6" width="2.3" height="19.8" fill="#99d8c9"/>
<rect x="408.64" y="326.3" width="2.3" height="31.1" fill="#66c2a4"/>
<rect x="410.36" y="320" width="2.3" height="37.4" fill="#2ca25f"/>
<rect x="412.08" y="340.4" width="1.72" height="17" fill="#006d2c"/>
<rect x="415.42" y="335.1" width="2.3" height="22.3" fill="#edf8fb"/>
<rect x="417.14" y="334.1" width="2.3" height="23.3" fill="#ccece6"/>
<rect x="418.86" y="333.1" width="2.3" height="24.3" fill="#99d8c9"/>
<rect x="420.58" y="323.3" width="2.3" height="34.1" fill="#66c2a4"/>
<rect x="422.3" y="317.5" width="2.3" height="39.9" fill="#2ca25f"/>
<rect x="424.02" y="340.4" width="1.72" height="17" fill="#006d2c"/>
<rect x="427.36" y="278.2" width="2.3" height="79.2" fill="#edf8fb"/>
<rect x="429.08" y="273.3" width="2.3" height="84.1" fill="#ccece6"/>
<rect x="430.8" y="267.5" width="2.3" height="89.9" fill="#99d8c9"/>
<rect x="432.52" y="248" width="2.3" height="109.4" fill="#66c2a4"/>
<rect x="434.24" y="248" width="2.3" height="109.4" fill="#2ca25f"/>
<rect x="435.96" y="265.5" width="1.72" height="91.9" fill="#006d2c"/>
<rect x="439.3" y="248" width="2.3" height="109.4" fill="#edf8fb"/>
<rect x="441.02" y="248" width="2.3" height="109.4" fill="#ccece6"/>
<rect x="442.74" y="248" width="2.3" height="109.4" fill="#99d8c9"/>
<rect x="444.46" y="248" width="2.3" height="109.4" fill="#66c2a4"/>
<rect x="446.18" y="248" width="2.3" height="109.4" fill="#2ca25f"/>
<rect x="447.9" y="248" width="1.72" height="109.4" fill="#006d2c"/>
<rect x="451.24" y="248" width="2.3" height="109.4" fill="#edf8fb"/>
<rect x="452.96" y="248" width="2.3" height="109.4" fill="#ccece6"/>
<rect x="454.68" y="248" width="2.3" height="109.4" fill="#99d8c9"/>
<rect x="456.4" y="248" width="2.3" height="109.4" fill="#66c2a4"/>
<rect x="458.12" y="248" width="2.3" height="109.4" fill="#2ca25f"/>
<rect x="459.84" y="248" width="1.72" height="109.4" fill="#006d2c"/>
<rect x="463.18" y="248" width="2.3" height="109.4" fill="#edf8fb"/>
<rect x="464.9" y="248" width="2.3" height="109.4" fill="#ccece6"/>
<rect x="466.62" y="248" width="2.3" height="109.4" fill="#99d8c9"/>
<rect x="468.34" y="248" width="2.3" height="109.4" fill="#66c2a4"/>
<rect x="470.06" y="248" width="2.3" height="109.4" fill="#2ca25f"/>
<rect x="471.78" y="248" width="1.72" height="109.4" fill="#006d2c"/>
<rect x="475.12" y="248" width="2.3" height="109.4" fill="#edf8fb"/>
<rect x="476.84" y="248" width="2.3" height="109.4" fill="#ccece6"/>
<rect x="478.56" y="248" width="2.3" height="109.4" fill="#99d8c9"/>
<rect x="480.28" y="248" width="2.3" height="109.4" fill="#66c2a4"/>
<rect x="482" y="248" width="2.3" height="109.4" fill="#2ca25f"/>
<rect x="483.72" y="248" width="1.72" height="109.4" fill="#006d2c"/>
<rect x="487.06" y="346.9" width="2.3" height="10.5" fill="#edf8fb"/>
<rect x="488.78" y="345.9" width="2.3" height="11.5" fill="#ccece6"/>
<rect x="490.5" y="343" width="2.3" height="14.4" fill="#99d8c9"/>
<rect x="492.22" y="334.1" width="2.3" height="23.3" fill="#66c2a4"/>
<rect x="493.94" y="332.2" width="2.3" height="25.2" fill="#2ca25f"/>
<rect x="495.66" y="347.5" width="1.72" height="9.9" fill="#006d2c"/>
<rect x="499" y="347.8" width="2.3" height="9.6" fill="#edf8fb"/>
<rect x="500.72" y="347.8" width="2.3" height="9.6" fill="#ccece6"/>
<rect x="502.44" y="347.5" width="2.3" height="9.9" fill="#99d8c9"/>
<rect x="504.16" y="338" width="2.3" height="19.4" fill="#66c2a4"/>
<rect x="505.88" y="341" width="2.3" height="16.4" fill="#2ca25f"/>
<rect x="507.6" y="346.9" width="1.72" height="10.5" fill="#006d2c"/>
<rect x="510.94" y="339" width="2.3" height="18.4" fill="#edf8fb"/>
<rect x="512.66" y="336.1" width="2.3" height="21.3" fill="#ccece6"/>
<rect x="514.38" y="325.3" width="2.3" height="32.1" fill="#99d8c9"/>
<rect x="516.1" y="322" width="2.3" height="35.4" fill="#66c2a4"/>
<rect x="517.82" y="320" width="2.3" height="37.4" fill="#2ca25f"/>
<rect x="519.54" y="342" width="1.72" height="15.4" fill="#006d2c"/>
<line x1="376.7" y1="252.3" x2="376.7" y2="357.4" stroke="#b0b0b0" stroke-width="1.3"/>
<path d="M376.7 252.3 l-1.6 -1.6 l2.6 -1.2 l-2.4 -1.6 l2.2 -1.4 l-1.2 -1.4" fill="none" stroke="#555" stroke-width="0.7"/>
<line x1="376.7" y1="357.4" x2="521.7" y2="357.4" stroke="#7a7a7a" stroke-width="0.95"/>
<line x1="374.2" y1="357.4" x2="376.7" y2="357.4" stroke="#7a7a7a" stroke-width="0.95"/>
<line x1="374.2" y1="336.15" x2="376.7" y2="336.15" stroke="#7a7a7a" stroke-width="0.95"/>
<line x1="374.2" y1="314.9" x2="376.7" y2="314.9" stroke="#7a7a7a" stroke-width="0.95"/>
<line x1="374.2" y1="293.65" x2="376.7" y2="293.65" stroke="#7a7a7a" stroke-width="0.95"/>
<line x1="374.2" y1="272.4" x2="376.7" y2="272.4" stroke="#7a7a7a" stroke-width="0.95"/>
<line x1="374.2" y1="251.15" x2="376.7" y2="251.15" stroke="#7a7a7a" stroke-width="0.95"/>
<line x1="391.4" y1="357.4" x2="391.4" y2="360.9" stroke="#7a7a7a" stroke-width="0.95"/>
<line x1="403.34" y1="357.4" x2="403.34" y2="360.9" stroke="#7a7a7a" stroke-width="0.95"/>
<line x1="415.28" y1="357.4" x2="415.28" y2="360.9" stroke="#7a7a7a" stroke-width="0.95"/>
<line x1="427.22" y1="357.4" x2="427.22" y2="360.9" stroke="#7a7a7a" stroke-width="0.95"/>
<line x1="439.16" y1="357.4" x2="439.16" y2="360.9" stroke="#7a7a7a" stroke-width="0.95"/>
<line x1="451.1" y1="357.4" x2="451.1" y2="360.9" stroke="#7a7a7a" stroke-width="0.95"/>
<line x1="463.04" y1="357.4" x2="463.04" y2="360.9" stroke="#7a7a7a" stroke-width="0.95"/>
<line x1="474.98" y1="357.4" x2="474.98" y2="360.9" stroke="#7a7a7a" stroke-width="0.95"/>
<line x1="486.92" y1="357.4" x2="486.92" y2="360.9" stroke="#7a7a7a" stroke-width="0.95"/>
<line x1="498.86" y1="357.4" x2="498.86" y2="360.9" stroke="#7a7a7a" stroke-width="0.95"/>
<line x1="510.8" y1="357.4" x2="510.8" y2="360.9" stroke="#7a7a7a" stroke-width="0.95"/>
<text x="385.3" y="370.9" font-size="9.3" text-anchor="middle">J</text>
<text x="397.24" y="370.9" font-size="9.3" text-anchor="middle">F</text>
<text x="409.18" y="370.9" font-size="9.3" text-anchor="middle">M</text>
<text x="421.12" y="370.9" font-size="9.3" text-anchor="middle">A</text>
<text x="433.06" y="370.9" font-size="9.3" text-anchor="middle">M</text>
<text x="445" y="370.9" font-size="9.3" text-anchor="middle">J</text>
<text x="456.94" y="370.9" font-size="9.3" text-anchor="middle">J</text>
<text x="468.88" y="370.9" font-size="9.3" text-anchor="middle">A</text>
<text x="480.82" y="370.9" font-size="9.3" text-anchor="middle">S</text>
<text x="492.76" y="370.9" font-size="9.3" text-anchor="middle">O</text>
<text x="504.7" y="370.9" font-size="9.3" text-anchor="middle">N</text>
<text x="516.64" y="370.9" font-size="9.3" text-anchor="middle">D</text>
<text x="449.3" y="383.8" font-size="11.4" text-anchor="middle" textLength="30.2" lengthAdjust="spacingAndGlyphs">Month</text>
<rect x="410.2" y="390.5" width="3" height="3" fill="#edf8fb"/>
<text x="414.4" y="393.8" font-size="6.8" textLength="17.1" lengthAdjust="spacingAndGlyphs">0–4 h</text>
<rect x="433.7" y="390.5" width="3" height="3" fill="#ccece6"/>
<text x="438.5" y="393.8" font-size="6.8" textLength="16" lengthAdjust="spacingAndGlyphs">4–8 h</text>
<rect x="457.8" y="390.5" width="3" height="3" fill="#99d8c9"/>
<text x="461.8" y="393.8" font-size="6.8" textLength="19" lengthAdjust="spacingAndGlyphs">8–12 h</text>
<rect x="403.8" y="398" width="3" height="3" fill="#66c2a4"/>
<text x="408.5" y="401.3" font-size="6.8" textLength="21.2" lengthAdjust="spacingAndGlyphs">12–16 h</text>
<rect x="432.6" y="398" width="3" height="3" fill="#2ca25f"/>
<text x="436.6" y="401.3" font-size="6.8" textLength="22.5" lengthAdjust="spacingAndGlyphs">16–20 h</text>
<rect x="462.6" y="398" width="3" height="3" fill="#006d2c"/>
<text x="466.6" y="401.3" font-size="6.8" textLength="24.1" lengthAdjust="spacingAndGlyphs">20–24 h</text>
<rect x="531.7" y="248" width="2.3" height="109.4" fill="#f2f0f7"/>
<rect x="533.42" y="248" width="2.3" height="109.4" fill="#dadaeb"/>
<rect x="535.14" y="248" width="2.3" height="109.4" fill="#bcbddc"/>
<rect x="536.86" y="248" width="2.3" height="109.4" fill="#9e9ac8"/>
<rect x="538.58" y="248" width="2.3" height="109.4" fill="#756bb1"/>
<rect x="540.3" y="248" width="1.72" height="109.4" fill="#54278f"/>
<rect x="543.64" y="248" width="2.3" height="109.4" fill="#f2f0f7"/>
<rect x="545.36" y="248" width="2.3" height="109.4" fill="#dadaeb"/>
<rect x="547.08" y="248" width="2.3" height="109.4" fill="#bcbddc"/>
<rect x="548.8" y="248" width="2.3" height="109.4" fill="#9e9ac8"/>
<rect x="550.52" y="248" width="2.3" height="109.4" fill="#756bb1"/>
<rect x="552.24" y="248" width="1.72" height="109.4" fill="#54278f"/>
<rect x="555.58" y="337.1" width="2.3" height="20.3" fill="#f2f0f7"/>
<rect x="557.3" y="335.1" width="2.3" height="22.3" fill="#dadaeb"/>
<rect x="559.02" y="334.1" width="2.3" height="23.3" fill="#bcbddc"/>
<rect x="560.74" y="315.5" width="2.3" height="41.9" fill="#9e9ac8"/>
<rect x="562.46" y="298.8" width="2.3" height="58.6" fill="#756bb1"/>
<rect x="564.18" y="336.1" width="1.72" height="21.3" fill="#54278f"/>
<rect x="567.52" y="331.2" width="2.3" height="26.2" fill="#f2f0f7"/>
<rect x="569.24" y="330.2" width="2.3" height="27.2" fill="#dadaeb"/>
<rect x="570.96" y="325.3" width="2.3" height="32.1" fill="#bcbddc"/>
<rect x="572.68" y="306.3" width="2.3" height="51.1" fill="#9e9ac8"/>
<rect x="574.4" y="292.9" width="2.3" height="64.5" fill="#756bb1"/>
<rect x="576.12" y="332.2" width="1.72" height="25.2" fill="#54278f"/>
<rect x="579.46" y="248" width="2.3" height="109.4" fill="#f2f0f7"/>
<rect x="581.18" y="248" width="2.3" height="109.4" fill="#dadaeb"/>
<rect x="582.9" y="248" width="2.3" height="109.4" fill="#bcbddc"/>
<rect x="584.62" y="248" width="2.3" height="109.4" fill="#9e9ac8"/>
<rect x="586.34" y="248" width="2.3" height="109.4" fill="#756bb1"/>
<rect x="588.06" y="248" width="1.72" height="109.4" fill="#54278f"/>
<rect x="591.4" y="248" width="2.3" height="109.4" fill="#f2f0f7"/>
<rect x="593.12" y="248" width="2.3" height="109.4" fill="#dadaeb"/>
<rect x="594.84" y="248" width="2.3" height="109.4" fill="#bcbddc"/>
<rect x="596.56" y="248" width="2.3" height="109.4" fill="#9e9ac8"/>
<rect x="598.28" y="248" width="2.3" height="109.4" fill="#756bb1"/>
<rect x="600" y="248" width="1.72" height="109.4" fill="#54278f"/>
<rect x="603.34" y="248" width="2.3" height="109.4" fill="#f2f0f7"/>
<rect x="605.06" y="248" width="2.3" height="109.4" fill="#dadaeb"/>
<rect x="606.78" y="248" width="2.3" height="109.4" fill="#bcbddc"/>
<rect x="608.5" y="248" width="2.3" height="109.4" fill="#9e9ac8"/>
<rect x="610.22" y="248" width="2.3" height="109.4" fill="#756bb1"/>
<rect x="611.94" y="248" width="1.72" height="109.4" fill="#54278f"/>
<rect x="615.28" y="248" width="2.3" height="109.4" fill="#f2f0f7"/>
<rect x="617" y="248" width="2.3" height="109.4" fill="#dadaeb"/>
<rect x="618.72" y="248" width="2.3" height="109.4" fill="#bcbddc"/>
<rect x="620.44" y="248" width="2.3" height="109.4" fill="#9e9ac8"/>
<rect x="622.16" y="248" width="2.3" height="109.4" fill="#756bb1"/>
<rect x="623.88" y="248" width="1.72" height="109.4" fill="#54278f"/>
<rect x="627.22" y="248" width="2.3" height="109.4" fill="#f2f0f7"/>
<rect x="628.94" y="248" width="2.3" height="109.4" fill="#dadaeb"/>
<rect x="630.66" y="248" width="2.3" height="109.4" fill="#bcbddc"/>
<rect x="632.38" y="248" width="2.3" height="109.4" fill="#9e9ac8"/>
<rect x="634.1" y="248" width="2.3" height="109.4" fill="#756bb1"/>
<rect x="635.82" y="248" width="1.72" height="109.4" fill="#54278f"/>
<rect x="639.16" y="248" width="2.3" height="109.4" fill="#f2f0f7"/>
<rect x="640.88" y="248" width="2.3" height="109.4" fill="#dadaeb"/>
<rect x="642.6" y="248" width="2.3" height="109.4" fill="#bcbddc"/>
<rect x="644.32" y="248" width="2.3" height="109.4" fill="#9e9ac8"/>
<rect x="646.04" y="248" width="2.3" height="109.4" fill="#756bb1"/>
<rect x="647.76" y="248" width="1.72" height="109.4" fill="#54278f"/>
<rect x="651.1" y="348.8" width="2.3" height="8.6" fill="#f2f0f7"/>
<rect x="652.82" y="347.5" width="2.3" height="9.9" fill="#dadaeb"/>
<rect x="654.54" y="346.9" width="2.3" height="10.5" fill="#bcbddc"/>
<rect x="656.26" y="337.1" width="2.3" height="20.3" fill="#9e9ac8"/>
<rect x="657.98" y="333.1" width="2.3" height="24.3" fill="#756bb1"/>
<rect x="659.7" y="347.5" width="1.72" height="9.9" fill="#54278f"/>
<rect x="663.04" y="338" width="2.3" height="19.4" fill="#f2f0f7"/>
<rect x="664.76" y="331.2" width="2.3" height="26.2" fill="#dadaeb"/>
<rect x="666.48" y="330.2" width="2.3" height="27.2" fill="#bcbddc"/>
<rect x="668.2" y="314.1" width="2.3" height="43.3" fill="#9e9ac8"/>
<rect x="669.92" y="297.8" width="2.3" height="59.6" fill="#756bb1"/>
<rect x="671.64" y="338" width="1.72" height="19.4" fill="#54278f"/>
<line x1="528.8" y1="252.3" x2="528.8" y2="357.4" stroke="#b0b0b0" stroke-width="1.3"/>
<path d="M528.8 252.3 l-1.6 -1.6 l2.6 -1.2 l-2.4 -1.6 l2.2 -1.4 l-1.2 -1.4" fill="none" stroke="#555" stroke-width="0.7"/>
<line x1="528.8" y1="357.4" x2="673.8" y2="357.4" stroke="#7a7a7a" stroke-width="0.95"/>
<line x1="526.3" y1="357.4" x2="528.8" y2="357.4" stroke="#7a7a7a" stroke-width="0.95"/>
<line x1="526.3" y1="336.15" x2="528.8" y2="336.15" stroke="#7a7a7a" stroke-width="0.95"/>
<line x1="526.3" y1="314.9" x2="528.8" y2="314.9" stroke="#7a7a7a" stroke-width="0.95"/>
<line x1="526.3" y1="293.65" x2="528.8" y2="293.65" stroke="#7a7a7a" stroke-width="0.95"/>
<line x1="526.3" y1="272.4" x2="528.8" y2="272.4" stroke="#7a7a7a" stroke-width="0.95"/>
<line x1="526.3" y1="251.15" x2="528.8" y2="251.15" stroke="#7a7a7a" stroke-width="0.95"/>
<line x1="544.3" y1="357.4" x2="544.3" y2="360.9" stroke="#7a7a7a" stroke-width="0.95"/>
<line x1="556.24" y1="357.4" x2="556.24" y2="360.9" stroke="#7a7a7a" stroke-width="0.95"/>
<line x1="568.18" y1="357.4" x2="568.18" y2="360.9" stroke="#7a7a7a" stroke-width="0.95"/>
<line x1="580.12" y1="357.4" x2="580.12" y2="360.9" stroke="#7a7a7a" stroke-width="0.95"/>
<line x1="592.06" y1="357.4" x2="592.06" y2="360.9" stroke="#7a7a7a" stroke-width="0.95"/>
<line x1="604" y1="357.4" x2="604" y2="360.9" stroke="#7a7a7a" stroke-width="0.95"/>
<line x1="615.94" y1="357.4" x2="615.94" y2="360.9" stroke="#7a7a7a" stroke-width="0.95"/>
<line x1="627.88" y1="357.4" x2="627.88" y2="360.9" stroke="#7a7a7a" stroke-width="0.95"/>
<line x1="639.82" y1="357.4" x2="639.82" y2="360.9" stroke="#7a7a7a" stroke-width="0.95"/>
<line x1="651.76" y1="357.4" x2="651.76" y2="360.9" stroke="#7a7a7a" stroke-width="0.95"/>
<line x1="663.7" y1="357.4" x2="663.7" y2="360.9" stroke="#7a7a7a" stroke-width="0.95"/>
<text x="537.4" y="370.9" font-size="9.3" text-anchor="middle">J</text>
<text x="549.34" y="370.9" font-size="9.3" text-anchor="middle">F</text>
<text x="561.28" y="370.9" font-size="9.3" text-anchor="middle">M</text>
<text x="573.22" y="370.9" font-size="9.3" text-anchor="middle">A</text>
<text x="585.16" y="370.9" font-size="9.3" text-anchor="middle">M</text>
<text x="597.1" y="370.9" font-size="9.3" text-anchor="middle">J</text>
<text x="609.04" y="370.9" font-size="9.3" text-anchor="middle">J</text>
<text x="620.98" y="370.9" font-size="9.3" text-anchor="middle">A</text>
<text x="632.92" y="370.9" font-size="9.3" text-anchor="middle">S</text>
<text x="644.86" y="370.9" font-size="9.3" text-anchor="middle">O</text>
<text x="656.8" y="370.9" font-size="9.3" text-anchor="middle">N</text>
<text x="668.74" y="370.9" font-size="9.3" text-anchor="middle">D</text>
<text x="601.4" y="383.8" font-size="11.4" text-anchor="middle" textLength="30.2" lengthAdjust="spacingAndGlyphs">Month</text>
<rect x="562.3" y="390.5" width="3" height="3" fill="#f2f0f7"/>
<text x="566.5" y="393.8" font-size="6.8" textLength="17.1" lengthAdjust="spacingAndGlyphs">0–4 h</text>
<rect x="585.8" y="390.5" width="3" height="3" fill="#dadaeb"/>
<text x="590.6" y="393.8" font-size="6.8" textLength="16" lengthAdjust="spacingAndGlyphs">4–8 h</text>
<rect x="609.9" y="390.5" width="3" height="3" fill="#bcbddc"/>
<text x="613.9" y="393.8" font-size="6.8" textLength="19" lengthAdjust="spacingAndGlyphs">8–12 h</text>
<rect x="555.9" y="398" width="3" height="3" fill="#9e9ac8"/>
<text x="560.6" y="401.3" font-size="6.8" textLength="21.2" lengthAdjust="spacingAndGlyphs">12–16 h</text>
<rect x="584.7" y="398" width="3" height="3" fill="#756bb1"/>
<text x="588.7" y="401.3" font-size="6.8" textLength="22.5" lengthAdjust="spacingAndGlyphs">16–20 h</text>
<rect x="614.7" y="398" width="3" height="3" fill="#54278f"/>
<text x="618.7" y="401.3" font-size="6.8" textLength="24.1" lengthAdjust="spacingAndGlyphs">20–24 h</text>
<path d="M85.4 252.6 V244.5" stroke="#000" stroke-width="0.9"/><path d="M83.6 246.2 L85.4 242.4 L87.2 246.2 Z" fill="#000"/>
<text x="180.6" y="290.9" font-size="7.4" text-anchor="middle" textLength="41.1" lengthAdjust="spacingAndGlyphs">Water levels</text>
<text x="180.9" y="299.2" font-size="7.4" text-anchor="middle" textLength="48" lengthAdjust="spacingAndGlyphs">near minimum</text>
<text x="331.5" y="294.3" font-size="7.4" text-anchor="middle">Diurnal</text>
<text x="331.4" y="302.7" font-size="7.4" text-anchor="middle">effect</text>
<line x1="329.4" y1="303.8" x2="317.9" y2="318.5" stroke="#333" stroke-width="0.6"/>
<line x1="329.4" y1="303.8" x2="328.3" y2="321.3" stroke="#333" stroke-width="0.6"/>
<text x="502.2" y="278.2" font-size="7.4" text-anchor="middle" textLength="30.4" lengthAdjust="spacingAndGlyphs">Seasonal</text>
<text x="502.2" y="286.7" font-size="7.4" text-anchor="middle">effect</text>
<line x1="487.5" y1="248.8" x2="498.7" y2="269.4" stroke="#333" stroke-width="0.6"/>
<text x="566.6" y="275.3" font-size="7.4" text-anchor="middle">Multi-</text>
<text x="567" y="283.5" font-size="7.4" text-anchor="middle">annual</text>
<text x="566.6" y="292" font-size="7.4" text-anchor="middle">effect</text>
<line x1="554.9" y1="248.2" x2="564.7" y2="267.1" stroke="#333" stroke-width="0.6"/>
<text transform="translate(20.1 305.8) rotate(-90)" font-size="10.9" text-anchor="middle" textLength="113.7" lengthAdjust="spacingAndGlyphs">Complejo Paute median</text>
<text transform="translate(31.9 304.2) rotate(-90)" font-size="10.9" text-anchor="middle" textLength="150.4" lengthAdjust="spacingAndGlyphs">storage filling level in 2024 (%)</text>
<text x="0.3" y="413.7" font-size="14.2" font-weight="bold" fill="#000" stroke="#000" stroke-width="0.5">c</text>
<rect x="84.35" y="554.88" width="3.8" height="27.42" fill="#156082"/>
<rect x="96.2" y="539.74" width="3.8" height="42.56" fill="#156082"/>
<rect x="108.05" y="545.54" width="3.8" height="36.76" fill="#156082"/>
<rect x="155.45" y="532.3" width="3.8" height="50" fill="#156082"/>
<rect x="167.3" y="502.72" width="3.8" height="79.58" fill="#156082"/>
<rect x="179.15" y="496.66" width="3.8" height="85.63" fill="#156082"/>
<rect x="191" y="465.52" width="3.8" height="116.77" fill="#156082"/>
<rect x="202.85" y="534.98" width="3.8" height="47.32" fill="#156082"/>
<line x1="68.5" y1="443.9" x2="68.5" y2="582.3" stroke="#7a7a7a" stroke-width="0.95"/>
<line x1="68.5" y1="582.3" x2="210.8" y2="582.3" stroke="#7a7a7a" stroke-width="0.95"/>
<line x1="65.8" y1="582.3" x2="68.5" y2="582.3" stroke="#7a7a7a" stroke-width="0.95"/>
<text x="61.8" y="585.1" font-size="9.2" text-anchor="end">0</text>
<line x1="65.8" y1="565" x2="68.5" y2="565" stroke="#7a7a7a" stroke-width="0.95"/>
<text x="61.8" y="567.8" font-size="9.2" text-anchor="end">2</text>
<line x1="65.8" y1="547.7" x2="68.5" y2="547.7" stroke="#7a7a7a" stroke-width="0.95"/>
<text x="61.8" y="550.5" font-size="9.2" text-anchor="end">4</text>
<line x1="65.8" y1="530.4" x2="68.5" y2="530.4" stroke="#7a7a7a" stroke-width="0.95"/>
<text x="61.8" y="533.2" font-size="9.2" text-anchor="end">6</text>
<line x1="65.8" y1="513.1" x2="68.5" y2="513.1" stroke="#7a7a7a" stroke-width="0.95"/>
<text x="61.8" y="515.9" font-size="9.2" text-anchor="end">8</text>
<line x1="65.8" y1="495.8" x2="68.5" y2="495.8" stroke="#7a7a7a" stroke-width="0.95"/>
<text x="61.8" y="498.6" font-size="9.2" text-anchor="end">10</text>
<line x1="65.8" y1="478.5" x2="68.5" y2="478.5" stroke="#7a7a7a" stroke-width="0.95"/>
<text x="61.8" y="481.3" font-size="9.2" text-anchor="end">12</text>
<line x1="65.8" y1="461.2" x2="68.5" y2="461.2" stroke="#7a7a7a" stroke-width="0.95"/>
<text x="61.8" y="464" font-size="9.2" text-anchor="end">14</text>
<line x1="65.8" y1="443.9" x2="68.5" y2="443.9" stroke="#7a7a7a" stroke-width="0.95"/>
<text x="61.8" y="446.7" font-size="9.2" text-anchor="end">16</text>
<line x1="74.4" y1="582.3" x2="74.4" y2="585.3" stroke="#999" stroke-width="0.95"/>
<text x="74.4" y="595.9" font-size="9.3" text-anchor="middle">J</text>
<line x1="86.25" y1="582.3" x2="86.25" y2="585.3" stroke="#999" stroke-width="0.95"/>
<text x="86.25" y="595.9" font-size="9.3" text-anchor="middle">F</text>
<line x1="98.1" y1="582.3" x2="98.1" y2="585.3" stroke="#999" stroke-width="0.95"/>
<text x="98.1" y="595.9" font-size="9.3" text-anchor="middle">M</text>
<line x1="109.95" y1="582.3" x2="109.95" y2="585.3" stroke="#999" stroke-width="0.95"/>
<text x="109.95" y="595.9" font-size="9.3" text-anchor="middle">A</text>
<line x1="121.8" y1="582.3" x2="121.8" y2="585.3" stroke="#999" stroke-width="0.95"/>
<text x="121.8" y="595.9" font-size="9.3" text-anchor="middle">M</text>
<line x1="133.65" y1="582.3" x2="133.65" y2="585.3" stroke="#999" stroke-width="0.95"/>
<text x="133.65" y="595.9" font-size="9.3" text-anchor="middle">J</text>
<line x1="145.5" y1="582.3" x2="145.5" y2="585.3" stroke="#999" stroke-width="0.95"/>
<text x="145.5" y="595.9" font-size="9.3" text-anchor="middle">J</text>
<line x1="157.35" y1="582.3" x2="157.35" y2="585.3" stroke="#999" stroke-width="0.95"/>
<text x="157.35" y="595.9" font-size="9.3" text-anchor="middle">A</text>
<line x1="169.2" y1="582.3" x2="169.2" y2="585.3" stroke="#999" stroke-width="0.95"/>
<text x="169.2" y="595.9" font-size="9.3" text-anchor="middle">S</text>
<line x1="181.05" y1="582.3" x2="181.05" y2="585.3" stroke="#999" stroke-width="0.95"/>
<text x="181.05" y="595.9" font-size="9.3" text-anchor="middle">O</text>
<line x1="192.9" y1="582.3" x2="192.9" y2="585.3" stroke="#999" stroke-width="0.95"/>
<text x="192.9" y="595.9" font-size="9.3" text-anchor="middle">N</text>
<line x1="204.75" y1="582.3" x2="204.75" y2="585.3" stroke="#999" stroke-width="0.95"/>
<text x="204.75" y="595.9" font-size="9.3" text-anchor="middle">D</text>
<text x="139" y="611.9" font-size="11.4" text-anchor="middle" textLength="29.6" lengthAdjust="spacingAndGlyphs">Month</text>
<text x="217.8" y="450.4" font-size="9.1" text-anchor="end" textLength="55.5" lengthAdjust="spacingAndGlyphs">Total: 57 days</text>
<rect x="97.45" y="473.9" width="2.7" height="24.4" fill="#9ecae1"/>
<line x1="98.8" y1="498.3" x2="98.8" y2="501.1" stroke="#7a7a7a" stroke-width="0.95"/>
<text transform="translate(101.3 504.8) rotate(-90)" font-size="7.6" text-anchor="end">0–4</text>
<rect x="106.25" y="475.17" width="2.7" height="23.13" fill="#9ecae1"/>
<line x1="107.6" y1="498.3" x2="107.6" y2="501.1" stroke="#7a7a7a" stroke-width="0.95"/>
<text transform="translate(110.1 504.8) rotate(-90)" font-size="7.6" text-anchor="end">4–8</text>
<rect x="115.05" y="465.98" width="2.7" height="32.32" fill="#9ecae1"/>
<line x1="116.4" y1="498.3" x2="116.4" y2="501.1" stroke="#7a7a7a" stroke-width="0.95"/>
<text transform="translate(118.9 504.8) rotate(-90)" font-size="7.6" text-anchor="end">8–12</text>
<rect x="123.85" y="467.4" width="2.7" height="30.9" fill="#9ecae1"/>
<line x1="125.2" y1="498.3" x2="125.2" y2="501.1" stroke="#7a7a7a" stroke-width="0.95"/>
<text transform="translate(127.7 504.8) rotate(-90)" font-size="7.6" text-anchor="end">12–16</text>
<rect x="132.65" y="465.98" width="2.7" height="32.32" fill="#9ecae1"/>
<line x1="134" y1="498.3" x2="134" y2="501.1" stroke="#7a7a7a" stroke-width="0.95"/>
<text transform="translate(136.5 504.8) rotate(-90)" font-size="7.6" text-anchor="end">16–20</text>
<rect x="141.45" y="463.13" width="2.7" height="35.17" fill="#9ecae1"/>
<line x1="142.8" y1="498.3" x2="142.8" y2="501.1" stroke="#7a7a7a" stroke-width="0.95"/>
<text transform="translate(145.3 504.8) rotate(-90)" font-size="7.6" text-anchor="end">20–24</text>
<line x1="93.9" y1="447.6" x2="93.9" y2="498.3" stroke="#7a7a7a" stroke-width="0.95"/>
<line x1="93.9" y1="498.3" x2="146.9" y2="498.3" stroke="#7a7a7a" stroke-width="0.95"/>
<line x1="91.7" y1="498.3" x2="93.9" y2="498.3" stroke="#7a7a7a" stroke-width="0.95"/>
<text x="90.3" y="501.2" font-size="8.2" text-anchor="end">0</text>
<line x1="91.7" y1="472.95" x2="93.9" y2="472.95" stroke="#7a7a7a" stroke-width="0.95"/>
<text x="90.3" y="475.85" font-size="8.2" text-anchor="end">8</text>
<line x1="91.7" y1="447.6" x2="93.9" y2="447.6" stroke="#7a7a7a" stroke-width="0.95"/>
<text x="90.3" y="450.5" font-size="8.2" text-anchor="end">16</text>
<text transform="translate(80.4 473.45) rotate(-90)" font-size="9.2" text-anchor="middle" textLength="64.5" lengthAdjust="spacingAndGlyphs">Number of days</text>
<text x="121.4" y="536.6" font-size="9.2" text-anchor="middle" textLength="58" lengthAdjust="spacingAndGlyphs">Time block (h)</text>
<rect x="238.2" y="555.83" width="3.8" height="26.47" fill="#e97132"/>
<rect x="250.05" y="543.89" width="3.8" height="38.41" fill="#e97132"/>
<rect x="261.9" y="547.01" width="3.8" height="35.29" fill="#e97132"/>
<rect x="273.75" y="581.43" width="3.8" height="0.87" fill="#e97132"/>
<rect x="309.3" y="529.19" width="3.8" height="53.11" fill="#e97132"/>
<rect x="321.15" y="518.81" width="3.8" height="63.49" fill="#e97132"/>
<rect x="333" y="511.63" width="3.8" height="70.67" fill="#e97132"/>
<rect x="344.85" y="476.51" width="3.8" height="105.79" fill="#e97132"/>
<rect x="356.7" y="539.83" width="3.8" height="42.47" fill="#e97132"/>
<line x1="222.3" y1="443.9" x2="222.3" y2="582.3" stroke="#7a7a7a" stroke-width="0.95"/>
<line x1="222.3" y1="582.3" x2="364.6" y2="582.3" stroke="#7a7a7a" stroke-width="0.95"/>
<line x1="219.6" y1="582.3" x2="222.3" y2="582.3" stroke="#7a7a7a" stroke-width="0.95"/>
<line x1="219.6" y1="565" x2="222.3" y2="565" stroke="#7a7a7a" stroke-width="0.95"/>
<line x1="219.6" y1="547.7" x2="222.3" y2="547.7" stroke="#7a7a7a" stroke-width="0.95"/>
<line x1="219.6" y1="530.4" x2="222.3" y2="530.4" stroke="#7a7a7a" stroke-width="0.95"/>
<line x1="219.6" y1="513.1" x2="222.3" y2="513.1" stroke="#7a7a7a" stroke-width="0.95"/>
<line x1="219.6" y1="495.8" x2="222.3" y2="495.8" stroke="#7a7a7a" stroke-width="0.95"/>
<line x1="219.6" y1="478.5" x2="222.3" y2="478.5" stroke="#7a7a7a" stroke-width="0.95"/>
<line x1="219.6" y1="461.2" x2="222.3" y2="461.2" stroke="#7a7a7a" stroke-width="0.95"/>
<line x1="219.6" y1="443.9" x2="222.3" y2="443.9" stroke="#7a7a7a" stroke-width="0.95"/>
<line x1="228.25" y1="582.3" x2="228.25" y2="585.3" stroke="#999" stroke-width="0.95"/>
<text x="228.25" y="595.9" font-size="9.3" text-anchor="middle">J</text>
<line x1="240.1" y1="582.3" x2="240.1" y2="585.3" stroke="#999" stroke-width="0.95"/>
<text x="240.1" y="595.9" font-size="9.3" text-anchor="middle">F</text>
<line x1="251.95" y1="582.3" x2="251.95" y2="585.3" stroke="#999" stroke-width="0.95"/>
<text x="251.95" y="595.9" font-size="9.3" text-anchor="middle">M</text>
<line x1="263.8" y1="582.3" x2="263.8" y2="585.3" stroke="#999" stroke-width="0.95"/>
<text x="263.8" y="595.9" font-size="9.3" text-anchor="middle">A</text>
<line x1="275.65" y1="582.3" x2="275.65" y2="585.3" stroke="#999" stroke-width="0.95"/>
<text x="275.65" y="595.9" font-size="9.3" text-anchor="middle">M</text>
<line x1="287.5" y1="582.3" x2="287.5" y2="585.3" stroke="#999" stroke-width="0.95"/>
<text x="287.5" y="595.9" font-size="9.3" text-anchor="middle">J</text>
<line x1="299.35" y1="582.3" x2="299.35" y2="585.3" stroke="#999" stroke-width="0.95"/>
<text x="299.35" y="595.9" font-size="9.3" text-anchor="middle">J</text>
<line x1="311.2" y1="582.3" x2="311.2" y2="585.3" stroke="#999" stroke-width="0.95"/>
<text x="311.2" y="595.9" font-size="9.3" text-anchor="middle">A</text>
<line x1="323.05" y1="582.3" x2="323.05" y2="585.3" stroke="#999" stroke-width="0.95"/>
<text x="323.05" y="595.9" font-size="9.3" text-anchor="middle">S</text>
<line x1="334.9" y1="582.3" x2="334.9" y2="585.3" stroke="#999" stroke-width="0.95"/>
<text x="334.9" y="595.9" font-size="9.3" text-anchor="middle">O</text>
<line x1="346.75" y1="582.3" x2="346.75" y2="585.3" stroke="#999" stroke-width="0.95"/>
<text x="346.75" y="595.9" font-size="9.3" text-anchor="middle">N</text>
<line x1="358.6" y1="582.3" x2="358.6" y2="585.3" stroke="#999" stroke-width="0.95"/>
<text x="358.6" y="595.9" font-size="9.3" text-anchor="middle">D</text>
<text x="292.8" y="611.9" font-size="11.4" text-anchor="middle" textLength="29.6" lengthAdjust="spacingAndGlyphs">Month</text>
<text x="370.9" y="450.4" font-size="9.1" text-anchor="end" textLength="55.5" lengthAdjust="spacingAndGlyphs">Total: 51 days</text>
<rect x="248.75" y="463.23" width="2.7" height="39.17" fill="#fdae6b"/>
<line x1="250.1" y1="502.4" x2="250.1" y2="505.2" stroke="#7a7a7a" stroke-width="0.95"/>
<text transform="translate(252.6 508.9) rotate(-90)" font-size="7.6" text-anchor="end">0–4</text>
<rect x="257.55" y="461.28" width="2.7" height="41.12" fill="#fdae6b"/>
<line x1="258.9" y1="502.4" x2="258.9" y2="505.2" stroke="#7a7a7a" stroke-width="0.95"/>
<text transform="translate(261.4 508.9) rotate(-90)" font-size="7.6" text-anchor="end">4–8</text>
<rect x="266.35" y="480.71" width="2.7" height="21.69" fill="#fdae6b"/>
<line x1="267.7" y1="502.4" x2="267.7" y2="505.2" stroke="#7a7a7a" stroke-width="0.95"/>
<text transform="translate(270.2 508.9) rotate(-90)" font-size="7.6" text-anchor="end">8–12</text>
<rect x="275.15" y="501.1" width="2.7" height="1.29" fill="#fdae6b"/>
<line x1="276.5" y1="502.4" x2="276.5" y2="505.2" stroke="#7a7a7a" stroke-width="0.95"/>
<text transform="translate(279 508.9) rotate(-90)" font-size="7.6" text-anchor="end">12–16</text>
<rect x="283.95" y="488.48" width="2.7" height="13.92" fill="#fdae6b"/>
<line x1="285.3" y1="502.4" x2="285.3" y2="505.2" stroke="#7a7a7a" stroke-width="0.95"/>
<text transform="translate(287.8 508.9) rotate(-90)" font-size="7.6" text-anchor="end">16–20</text>
<rect x="292.75" y="452.22" width="2.7" height="50.18" fill="#fdae6b"/>
<line x1="294.1" y1="502.4" x2="294.1" y2="505.2" stroke="#7a7a7a" stroke-width="0.95"/>
<text transform="translate(296.6 508.9) rotate(-90)" font-size="7.6" text-anchor="end">20–24</text>
<line x1="245.2" y1="450.6" x2="245.2" y2="502.4" stroke="#7a7a7a" stroke-width="0.95"/>
<line x1="245.2" y1="502.4" x2="298.2" y2="502.4" stroke="#7a7a7a" stroke-width="0.95"/>
<line x1="243" y1="502.4" x2="245.2" y2="502.4" stroke="#7a7a7a" stroke-width="0.95"/>
<text x="241.6" y="505.3" font-size="8.2" text-anchor="end">0</text>
<line x1="243" y1="476.5" x2="245.2" y2="476.5" stroke="#7a7a7a" stroke-width="0.95"/>
<text x="241.6" y="479.4" font-size="8.2" text-anchor="end">8</text>
<line x1="243" y1="450.6" x2="245.2" y2="450.6" stroke="#7a7a7a" stroke-width="0.95"/>
<text x="241.6" y="453.5" font-size="8.2" text-anchor="end">16</text>
<text transform="translate(231.7 477) rotate(-90)" font-size="9.2" text-anchor="middle" textLength="64.5" lengthAdjust="spacingAndGlyphs">Number of days</text>
<text x="272.7" y="539.6" font-size="9.2" text-anchor="middle" textLength="58" lengthAdjust="spacingAndGlyphs">Time block (h)</text>
<rect x="393.15" y="553.93" width="3.8" height="28.37" fill="#00b050"/>
<rect x="405" y="539.83" width="3.8" height="42.47" fill="#00b050"/>
<rect x="416.85" y="545.54" width="3.8" height="36.76" fill="#00b050"/>
<rect x="428.7" y="580.92" width="3.8" height="1.38" fill="#00b050"/>
<rect x="476.1" y="559.64" width="3.8" height="22.66" fill="#00b050"/>
<rect x="487.95" y="503.15" width="3.8" height="79.15" fill="#00b050"/>
<rect x="499.8" y="470.2" width="3.8" height="112.1" fill="#00b050"/>
<rect x="511.65" y="538.62" width="3.8" height="43.68" fill="#00b050"/>
<line x1="378.4" y1="443.9" x2="378.4" y2="582.3" stroke="#7a7a7a" stroke-width="0.95"/>
<line x1="378.4" y1="582.3" x2="520.7" y2="582.3" stroke="#7a7a7a" stroke-width="0.95"/>
<line x1="375.7" y1="582.3" x2="378.4" y2="582.3" stroke="#7a7a7a" stroke-width="0.95"/>
<line x1="375.7" y1="565" x2="378.4" y2="565" stroke="#7a7a7a" stroke-width="0.95"/>
<line x1="375.7" y1="547.7" x2="378.4" y2="547.7" stroke="#7a7a7a" stroke-width="0.95"/>
<line x1="375.7" y1="530.4" x2="378.4" y2="530.4" stroke="#7a7a7a" stroke-width="0.95"/>
<line x1="375.7" y1="513.1" x2="378.4" y2="513.1" stroke="#7a7a7a" stroke-width="0.95"/>
<line x1="375.7" y1="495.8" x2="378.4" y2="495.8" stroke="#7a7a7a" stroke-width="0.95"/>
<line x1="375.7" y1="478.5" x2="378.4" y2="478.5" stroke="#7a7a7a" stroke-width="0.95"/>
<line x1="375.7" y1="461.2" x2="378.4" y2="461.2" stroke="#7a7a7a" stroke-width="0.95"/>
<line x1="375.7" y1="443.9" x2="378.4" y2="443.9" stroke="#7a7a7a" stroke-width="0.95"/>
<line x1="383.2" y1="582.3" x2="383.2" y2="585.3" stroke="#999" stroke-width="0.95"/>
<text x="383.2" y="595.9" font-size="9.3" text-anchor="middle">J</text>
<line x1="395.05" y1="582.3" x2="395.05" y2="585.3" stroke="#999" stroke-width="0.95"/>
<text x="395.05" y="595.9" font-size="9.3" text-anchor="middle">F</text>
<line x1="406.9" y1="582.3" x2="406.9" y2="585.3" stroke="#999" stroke-width="0.95"/>
<text x="406.9" y="595.9" font-size="9.3" text-anchor="middle">M</text>
<line x1="418.75" y1="582.3" x2="418.75" y2="585.3" stroke="#999" stroke-width="0.95"/>
<text x="418.75" y="595.9" font-size="9.3" text-anchor="middle">A</text>
<line x1="430.6" y1="582.3" x2="430.6" y2="585.3" stroke="#999" stroke-width="0.95"/>
<text x="430.6" y="595.9" font-size="9.3" text-anchor="middle">M</text>
<line x1="442.45" y1="582.3" x2="442.45" y2="585.3" stroke="#999" stroke-width="0.95"/>
<text x="442.45" y="595.9" font-size="9.3" text-anchor="middle">J</text>
<line x1="454.3" y1="582.3" x2="454.3" y2="585.3" stroke="#999" stroke-width="0.95"/>
<text x="454.3" y="595.9" font-size="9.3" text-anchor="middle">J</text>
<line x1="466.15" y1="582.3" x2="466.15" y2="585.3" stroke="#999" stroke-width="0.95"/>
<text x="466.15" y="595.9" font-size="9.3" text-anchor="middle">A</text>
<line x1="478" y1="582.3" x2="478" y2="585.3" stroke="#999" stroke-width="0.95"/>
<text x="478" y="595.9" font-size="9.3" text-anchor="middle">S</text>
<line x1="489.85" y1="582.3" x2="489.85" y2="585.3" stroke="#999" stroke-width="0.95"/>
<text x="489.85" y="595.9" font-size="9.3" text-anchor="middle">O</text>
<line x1="501.7" y1="582.3" x2="501.7" y2="585.3" stroke="#999" stroke-width="0.95"/>
<text x="501.7" y="595.9" font-size="9.3" text-anchor="middle">N</text>
<line x1="513.55" y1="582.3" x2="513.55" y2="585.3" stroke="#999" stroke-width="0.95"/>
<text x="513.55" y="595.9" font-size="9.3" text-anchor="middle">D</text>
<text x="448.9" y="611.9" font-size="11.4" text-anchor="middle" textLength="29.6" lengthAdjust="spacingAndGlyphs">Month</text>
<text x="527" y="450.4" font-size="9.1" text-anchor="end" textLength="55.5" lengthAdjust="spacingAndGlyphs">Total: 42 days</text>
<rect x="404.75" y="473.33" width="2.7" height="28.87" fill="#99d8c9"/>
<line x1="406.1" y1="502.2" x2="406.1" y2="505" stroke="#7a7a7a" stroke-width="0.95"/>
<text transform="translate(408.6 508.7) rotate(-90)" font-size="7.6" text-anchor="end">0–4</text>
<rect x="413.55" y="473.98" width="2.7" height="28.22" fill="#99d8c9"/>
<line x1="414.9" y1="502.2" x2="414.9" y2="505" stroke="#7a7a7a" stroke-width="0.95"/>
<text transform="translate(417.4 508.7) rotate(-90)" font-size="7.6" text-anchor="end">4–8</text>
<rect x="422.35" y="474.95" width="2.7" height="27.25" fill="#99d8c9"/>
<line x1="423.7" y1="502.2" x2="423.7" y2="505" stroke="#7a7a7a" stroke-width="0.95"/>
<text transform="translate(426.2 508.7) rotate(-90)" font-size="7.6" text-anchor="end">8–12</text>
<rect x="431.15" y="500.58" width="2.7" height="1.62" fill="#99d8c9"/>
<line x1="432.5" y1="502.2" x2="432.5" y2="505" stroke="#7a7a7a" stroke-width="0.95"/>
<text transform="translate(435 508.7) rotate(-90)" font-size="7.6" text-anchor="end">12–16</text>
<rect x="439.95" y="494.41" width="2.7" height="7.78" fill="#99d8c9"/>
<line x1="441.3" y1="502.2" x2="441.3" y2="505" stroke="#7a7a7a" stroke-width="0.95"/>
<text transform="translate(443.8 508.7) rotate(-90)" font-size="7.6" text-anchor="end">16–20</text>
<rect x="448.75" y="458.41" width="2.7" height="43.79" fill="#99d8c9"/>
<line x1="450.1" y1="502.2" x2="450.1" y2="505" stroke="#7a7a7a" stroke-width="0.95"/>
<text transform="translate(452.6 508.7) rotate(-90)" font-size="7.6" text-anchor="end">20–24</text>
<line x1="401.2" y1="450.3" x2="401.2" y2="502.2" stroke="#7a7a7a" stroke-width="0.95"/>
<line x1="401.2" y1="502.2" x2="454.2" y2="502.2" stroke="#7a7a7a" stroke-width="0.95"/>
<line x1="399" y1="502.2" x2="401.2" y2="502.2" stroke="#7a7a7a" stroke-width="0.95"/>
<text x="397.6" y="505.1" font-size="8.2" text-anchor="end">0</text>
<line x1="399" y1="476.25" x2="401.2" y2="476.25" stroke="#7a7a7a" stroke-width="0.95"/>
<text x="397.6" y="479.15" font-size="8.2" text-anchor="end">8</text>
<line x1="399" y1="450.3" x2="401.2" y2="450.3" stroke="#7a7a7a" stroke-width="0.95"/>
<text x="397.6" y="453.2" font-size="8.2" text-anchor="end">16</text>
<text transform="translate(387.7 476.75) rotate(-90)" font-size="9.2" text-anchor="middle" textLength="64.5" lengthAdjust="spacingAndGlyphs">Number of days</text>
<text x="428.7" y="539.3" font-size="9.2" text-anchor="middle" textLength="58" lengthAdjust="spacingAndGlyphs">Time block (h)</text>
<rect x="548.2" y="562.66" width="3.8" height="19.64" fill="#a02b93"/>
<rect x="560.05" y="541.39" width="3.8" height="40.91" fill="#a02b93"/>
<rect x="571.9" y="547.96" width="3.8" height="34.34" fill="#a02b93"/>
<rect x="583.75" y="580.92" width="3.8" height="1.38" fill="#a02b93"/>
<rect x="643" y="562.06" width="3.8" height="20.24" fill="#a02b93"/>
<rect x="654.85" y="475.9" width="3.8" height="106.39" fill="#a02b93"/>
<rect x="666.7" y="547.7" width="3.8" height="34.6" fill="#a02b93"/>
<line x1="532.5" y1="443.9" x2="532.5" y2="582.3" stroke="#7a7a7a" stroke-width="0.95"/>
<line x1="532.5" y1="582.3" x2="674.8" y2="582.3" stroke="#7a7a7a" stroke-width="0.95"/>
<line x1="529.8" y1="582.3" x2="532.5" y2="582.3" stroke="#7a7a7a" stroke-width="0.95"/>
<line x1="529.8" y1="565" x2="532.5" y2="565" stroke="#7a7a7a" stroke-width="0.95"/>
<line x1="529.8" y1="547.7" x2="532.5" y2="547.7" stroke="#7a7a7a" stroke-width="0.95"/>
<line x1="529.8" y1="530.4" x2="532.5" y2="530.4" stroke="#7a7a7a" stroke-width="0.95"/>
<line x1="529.8" y1="513.1" x2="532.5" y2="513.1" stroke="#7a7a7a" stroke-width="0.95"/>
<line x1="529.8" y1="495.8" x2="532.5" y2="495.8" stroke="#7a7a7a" stroke-width="0.95"/>
<line x1="529.8" y1="478.5" x2="532.5" y2="478.5" stroke="#7a7a7a" stroke-width="0.95"/>
<line x1="529.8" y1="461.2" x2="532.5" y2="461.2" stroke="#7a7a7a" stroke-width="0.95"/>
<line x1="529.8" y1="443.9" x2="532.5" y2="443.9" stroke="#7a7a7a" stroke-width="0.95"/>
<line x1="538.25" y1="582.3" x2="538.25" y2="585.3" stroke="#999" stroke-width="0.95"/>
<text x="538.25" y="595.9" font-size="9.3" text-anchor="middle">J</text>
<line x1="550.1" y1="582.3" x2="550.1" y2="585.3" stroke="#999" stroke-width="0.95"/>
<text x="550.1" y="595.9" font-size="9.3" text-anchor="middle">F</text>
<line x1="561.95" y1="582.3" x2="561.95" y2="585.3" stroke="#999" stroke-width="0.95"/>
<text x="561.95" y="595.9" font-size="9.3" text-anchor="middle">M</text>
<line x1="573.8" y1="582.3" x2="573.8" y2="585.3" stroke="#999" stroke-width="0.95"/>
<text x="573.8" y="595.9" font-size="9.3" text-anchor="middle">A</text>
<line x1="585.65" y1="582.3" x2="585.65" y2="585.3" stroke="#999" stroke-width="0.95"/>
<text x="585.65" y="595.9" font-size="9.3" text-anchor="middle">M</text>
<line x1="597.5" y1="582.3" x2="597.5" y2="585.3" stroke="#999" stroke-width="0.95"/>
<text x="597.5" y="595.9" font-size="9.3" text-anchor="middle">J</text>
<line x1="609.35" y1="582.3" x2="609.35" y2="585.3" stroke="#999" stroke-width="0.95"/>
<text x="609.35" y="595.9" font-size="9.3" text-anchor="middle">J</text>
<line x1="621.2" y1="582.3" x2="621.2" y2="585.3" stroke="#999" stroke-width="0.95"/>
<text x="621.2" y="595.9" font-size="9.3" text-anchor="middle">A</text>
<line x1="633.05" y1="582.3" x2="633.05" y2="585.3" stroke="#999" stroke-width="0.95"/>
<text x="633.05" y="595.9" font-size="9.3" text-anchor="middle">S</text>
<line x1="644.9" y1="582.3" x2="644.9" y2="585.3" stroke="#999" stroke-width="0.95"/>
<text x="644.9" y="595.9" font-size="9.3" text-anchor="middle">O</text>
<line x1="656.75" y1="582.3" x2="656.75" y2="585.3" stroke="#999" stroke-width="0.95"/>
<text x="656.75" y="595.9" font-size="9.3" text-anchor="middle">N</text>
<line x1="668.6" y1="582.3" x2="668.6" y2="585.3" stroke="#999" stroke-width="0.95"/>
<text x="668.6" y="595.9" font-size="9.3" text-anchor="middle">D</text>
<text x="603" y="611.9" font-size="11.4" text-anchor="middle" textLength="29.6" lengthAdjust="spacingAndGlyphs">Month</text>
<text x="683.4" y="450.4" font-size="9.1" text-anchor="end" textLength="55.5" lengthAdjust="spacingAndGlyphs">Total: 30 days</text>
<rect x="561.05" y="478.07" width="2.7" height="24.23" fill="#bcbddc"/>
<line x1="562.4" y1="502.3" x2="562.4" y2="505.1" stroke="#7a7a7a" stroke-width="0.95"/>
<text transform="translate(564.9 508.8) rotate(-90)" font-size="7.6" text-anchor="end">0–4</text>
<rect x="569.85" y="480.65" width="2.7" height="21.65" fill="#bcbddc"/>
<line x1="571.2" y1="502.3" x2="571.2" y2="505.1" stroke="#7a7a7a" stroke-width="0.95"/>
<text transform="translate(573.7 508.8) rotate(-90)" font-size="7.6" text-anchor="end">4–8</text>
<rect x="578.65" y="485.17" width="2.7" height="17.13" fill="#bcbddc"/>
<line x1="580" y1="502.3" x2="580" y2="505.1" stroke="#7a7a7a" stroke-width="0.95"/>
<text transform="translate(582.5 508.8) rotate(-90)" font-size="7.6" text-anchor="end">8–12</text>
<line x1="588.8" y1="502.3" x2="588.8" y2="505.1" stroke="#7a7a7a" stroke-width="0.95"/>
<text transform="translate(591.3 508.8) rotate(-90)" font-size="7.6" text-anchor="end">12–16</text>
<rect x="596.25" y="500.04" width="2.7" height="2.26" fill="#bcbddc"/>
<line x1="597.6" y1="502.3" x2="597.6" y2="505.1" stroke="#7a7a7a" stroke-width="0.95"/>
<text transform="translate(600.1 508.8) rotate(-90)" font-size="7.6" text-anchor="end">16–20</text>
<rect x="605.05" y="470.31" width="2.7" height="31.99" fill="#bcbddc"/>
<line x1="606.4" y1="502.3" x2="606.4" y2="505.1" stroke="#7a7a7a" stroke-width="0.95"/>
<text transform="translate(608.9 508.8) rotate(-90)" font-size="7.6" text-anchor="end">20–24</text>
<line x1="557.5" y1="450.6" x2="557.5" y2="502.3" stroke="#7a7a7a" stroke-width="0.95"/>
<line x1="557.5" y1="502.3" x2="610.5" y2="502.3" stroke="#7a7a7a" stroke-width="0.95"/>
<line x1="555.3" y1="502.3" x2="557.5" y2="502.3" stroke="#7a7a7a" stroke-width="0.95"/>
<text x="553.9" y="505.2" font-size="8.2" text-anchor="end">0</text>
<line x1="555.3" y1="476.45" x2="557.5" y2="476.45" stroke="#7a7a7a" stroke-width="0.95"/>
<text x="553.9" y="479.35" font-size="8.2" text-anchor="end">8</text>
<line x1="555.3" y1="450.6" x2="557.5" y2="450.6" stroke="#7a7a7a" stroke-width="0.95"/>
<text x="553.9" y="453.5" font-size="8.2" text-anchor="end">16</text>
<text transform="translate(544 476.95) rotate(-90)" font-size="9.2" text-anchor="middle" textLength="64.5" lengthAdjust="spacingAndGlyphs">Number of days</text>
<text x="585" y="539.6" font-size="9.2" text-anchor="middle" textLength="58" lengthAdjust="spacingAndGlyphs">Time block (h)</text>
<text transform="translate(8.8 506.5) rotate(-90)" font-size="10.9" text-anchor="middle" textLength="177.7" lengthAdjust="spacingAndGlyphs">Accumulated duration of shutdowns</text>
<text transform="translate(21.8 507.2) rotate(-90)" font-size="10.9" text-anchor="middle">of Paute Molino in 2024 (days month<tspan font-size="7" dy="-3.5">−1</tspan><tspan dy="3.5">)</tspan></text>
</svg></body></html>
